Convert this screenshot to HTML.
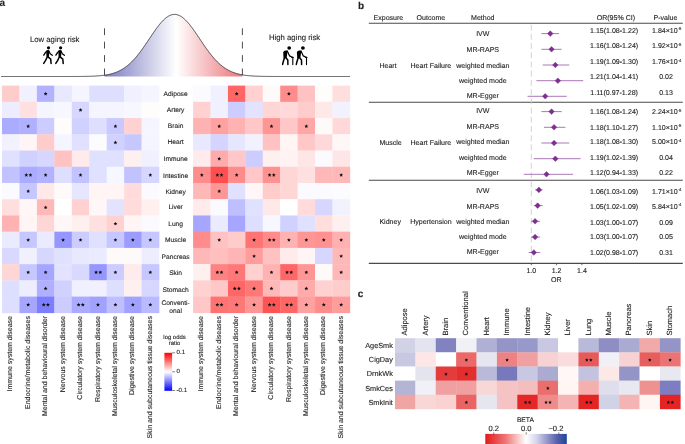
<!DOCTYPE html>
<html><head><meta charset="utf-8"><style>
html,body{margin:0;padding:0;background:#fff;overflow:hidden;}
svg{display:block;will-change:transform;}
text{font-family:"Liberation Sans", sans-serif;fill:#231f20;stroke:#231f20;stroke-width:0.12px;text-rendering:geometricPrecision;}
.t7{font-size:7.05px;}
.trl{font-size:6.65px;}
.tc{font-size:7.0px;}
.t7c{font-size:7.3px;}
.t7cc{font-size:7.55px;}
.t6{font-size:5.9px;}
.t6t{font-size:6.1px;}
.t65{font-size:6.7px;}
.t76{font-size:7.6px;}
.t8{font-size:7.75px;}
.sup{font-size:4.2px;}
.pl{font-size:10px;font-weight:bold;fill:#231f20;}
</style></head><body>
<svg width="685" height="444" viewBox="0 0 685 444">
<rect width="685" height="444" fill="#fff"/>
<rect x="2.00" y="85.60" width="17.75" height="16.53" fill="rgb(255,204,204)"/>
<rect x="19.45" y="85.60" width="17.75" height="16.53" fill="rgb(240,240,255)"/>
<rect x="36.90" y="85.60" width="17.75" height="16.53" fill="rgb(178,178,255)"/>
<rect x="54.35" y="85.60" width="17.75" height="16.53" fill="rgb(232,232,255)"/>
<rect x="71.80" y="85.60" width="17.75" height="16.53" fill="rgb(245,245,255)"/>
<rect x="89.25" y="85.60" width="17.75" height="16.53" fill="rgb(222,222,255)"/>
<rect x="106.70" y="85.60" width="17.75" height="16.53" fill="rgb(222,222,255)"/>
<rect x="124.15" y="85.60" width="17.75" height="16.53" fill="rgb(240,240,255)"/>
<rect x="141.60" y="85.60" width="17.75" height="16.53" fill="rgb(245,245,255)"/>
<rect x="2.00" y="101.83" width="17.75" height="16.53" fill="rgb(237,237,255)"/>
<rect x="19.45" y="101.83" width="17.75" height="16.53" fill="rgb(255,224,224)"/>
<rect x="36.90" y="101.83" width="17.75" height="16.53" fill="rgb(245,245,255)"/>
<rect x="54.35" y="101.83" width="17.75" height="16.53" fill="rgb(247,247,255)"/>
<rect x="71.80" y="101.83" width="17.75" height="16.53" fill="rgb(214,214,255)"/>
<rect x="89.25" y="101.83" width="17.75" height="16.53" fill="rgb(245,245,255)"/>
<rect x="106.70" y="101.83" width="17.75" height="16.53" fill="rgb(245,245,255)"/>
<rect x="124.15" y="101.83" width="17.75" height="16.53" fill="rgb(247,247,255)"/>
<rect x="141.60" y="101.83" width="17.75" height="16.53" fill="rgb(255,252,252)"/>
<rect x="2.00" y="118.06" width="17.75" height="16.53" fill="rgb(171,171,255)"/>
<rect x="19.45" y="118.06" width="17.75" height="16.53" fill="rgb(176,176,255)"/>
<rect x="36.90" y="118.06" width="17.75" height="16.53" fill="rgb(204,204,255)"/>
<rect x="54.35" y="118.06" width="17.75" height="16.53" fill="rgb(255,252,252)"/>
<rect x="71.80" y="118.06" width="17.75" height="16.53" fill="rgb(209,209,255)"/>
<rect x="89.25" y="118.06" width="17.75" height="16.53" fill="rgb(222,222,255)"/>
<rect x="106.70" y="118.06" width="17.75" height="16.53" fill="rgb(201,201,255)"/>
<rect x="124.15" y="118.06" width="17.75" height="16.53" fill="rgb(255,209,209)"/>
<rect x="141.60" y="118.06" width="17.75" height="16.53" fill="rgb(245,245,255)"/>
<rect x="2.00" y="134.29" width="17.75" height="16.53" fill="rgb(242,242,255)"/>
<rect x="19.45" y="134.29" width="17.75" height="16.53" fill="rgb(255,245,245)"/>
<rect x="36.90" y="134.29" width="17.75" height="16.53" fill="rgb(255,204,204)"/>
<rect x="54.35" y="134.29" width="17.75" height="16.53" fill="rgb(245,245,255)"/>
<rect x="71.80" y="134.29" width="17.75" height="16.53" fill="rgb(224,224,255)"/>
<rect x="89.25" y="134.29" width="17.75" height="16.53" fill="rgb(252,252,255)"/>
<rect x="106.70" y="134.29" width="17.75" height="16.53" fill="rgb(209,209,255)"/>
<rect x="124.15" y="134.29" width="17.75" height="16.53" fill="rgb(199,199,255)"/>
<rect x="141.60" y="134.29" width="17.75" height="16.53" fill="rgb(245,245,255)"/>
<rect x="2.00" y="150.52" width="17.75" height="16.53" fill="rgb(224,224,255)"/>
<rect x="19.45" y="150.52" width="17.75" height="16.53" fill="rgb(209,209,255)"/>
<rect x="36.90" y="150.52" width="17.75" height="16.53" fill="rgb(214,214,255)"/>
<rect x="54.35" y="150.52" width="17.75" height="16.53" fill="rgb(255,194,194)"/>
<rect x="71.80" y="150.52" width="17.75" height="16.53" fill="rgb(255,235,235)"/>
<rect x="89.25" y="150.52" width="17.75" height="16.53" fill="rgb(224,224,255)"/>
<rect x="106.70" y="150.52" width="17.75" height="16.53" fill="rgb(224,224,255)"/>
<rect x="124.15" y="150.52" width="17.75" height="16.53" fill="rgb(255,240,240)"/>
<rect x="141.60" y="150.52" width="17.75" height="16.53" fill="rgb(240,240,255)"/>
<rect x="2.00" y="166.75" width="17.75" height="16.53" fill="rgb(194,194,255)"/>
<rect x="19.45" y="166.75" width="17.75" height="16.53" fill="rgb(171,171,255)"/>
<rect x="36.90" y="166.75" width="17.75" height="16.53" fill="rgb(178,178,255)"/>
<rect x="54.35" y="166.75" width="17.75" height="16.53" fill="rgb(222,222,255)"/>
<rect x="71.80" y="166.75" width="17.75" height="16.53" fill="rgb(194,194,255)"/>
<rect x="89.25" y="166.75" width="17.75" height="16.53" fill="rgb(224,224,255)"/>
<rect x="106.70" y="166.75" width="17.75" height="16.53" fill="rgb(247,247,255)"/>
<rect x="124.15" y="166.75" width="17.75" height="16.53" fill="rgb(194,194,255)"/>
<rect x="141.60" y="166.75" width="17.75" height="16.53" fill="rgb(214,214,255)"/>
<rect x="2.00" y="182.98" width="17.75" height="16.53" fill="rgb(250,250,255)"/>
<rect x="19.45" y="182.98" width="17.75" height="16.53" fill="rgb(199,199,255)"/>
<rect x="36.90" y="182.98" width="17.75" height="16.53" fill="rgb(255,232,232)"/>
<rect x="54.35" y="182.98" width="17.75" height="16.53" fill="rgb(255,250,250)"/>
<rect x="71.80" y="182.98" width="17.75" height="16.53" fill="rgb(230,230,255)"/>
<rect x="89.25" y="182.98" width="17.75" height="16.53" fill="rgb(255,245,245)"/>
<rect x="106.70" y="182.98" width="17.75" height="16.53" fill="rgb(255,245,245)"/>
<rect x="124.15" y="182.98" width="17.75" height="16.53" fill="rgb(255,219,219)"/>
<rect x="141.60" y="182.98" width="17.75" height="16.53" fill="rgb(250,250,255)"/>
<rect x="2.00" y="199.21" width="17.75" height="16.53" fill="rgb(255,222,222)"/>
<rect x="19.45" y="199.21" width="17.75" height="16.53" fill="rgb(255,247,247)"/>
<rect x="36.90" y="199.21" width="17.75" height="16.53" fill="rgb(255,184,184)"/>
<rect x="54.35" y="199.21" width="17.75" height="16.53" fill="rgb(255,255,255)"/>
<rect x="71.80" y="199.21" width="17.75" height="16.53" fill="rgb(255,209,209)"/>
<rect x="89.25" y="199.21" width="17.75" height="16.53" fill="rgb(255,247,247)"/>
<rect x="106.70" y="199.21" width="17.75" height="16.53" fill="rgb(227,227,255)"/>
<rect x="124.15" y="199.21" width="17.75" height="16.53" fill="rgb(255,219,219)"/>
<rect x="141.60" y="199.21" width="17.75" height="16.53" fill="rgb(255,240,240)"/>
<rect x="2.00" y="215.44" width="17.75" height="16.53" fill="rgb(255,178,178)"/>
<rect x="19.45" y="215.44" width="17.75" height="16.53" fill="rgb(255,245,245)"/>
<rect x="36.90" y="215.44" width="17.75" height="16.53" fill="rgb(255,214,214)"/>
<rect x="54.35" y="215.44" width="17.75" height="16.53" fill="rgb(255,247,247)"/>
<rect x="71.80" y="215.44" width="17.75" height="16.53" fill="rgb(255,240,240)"/>
<rect x="89.25" y="215.44" width="17.75" height="16.53" fill="rgb(255,224,224)"/>
<rect x="106.70" y="215.44" width="17.75" height="16.53" fill="rgb(255,209,209)"/>
<rect x="124.15" y="215.44" width="17.75" height="16.53" fill="rgb(255,245,245)"/>
<rect x="141.60" y="215.44" width="17.75" height="16.53" fill="rgb(250,250,255)"/>
<rect x="2.00" y="231.67" width="17.75" height="16.53" fill="rgb(235,235,255)"/>
<rect x="19.45" y="231.67" width="17.75" height="16.53" fill="rgb(199,199,255)"/>
<rect x="36.90" y="231.67" width="17.75" height="16.53" fill="rgb(235,235,255)"/>
<rect x="54.35" y="231.67" width="17.75" height="16.53" fill="rgb(150,150,255)"/>
<rect x="71.80" y="231.67" width="17.75" height="16.53" fill="rgb(204,204,255)"/>
<rect x="89.25" y="231.67" width="17.75" height="16.53" fill="rgb(224,224,255)"/>
<rect x="106.70" y="231.67" width="17.75" height="16.53" fill="rgb(199,199,255)"/>
<rect x="124.15" y="231.67" width="17.75" height="16.53" fill="rgb(156,156,255)"/>
<rect x="141.60" y="231.67" width="17.75" height="16.53" fill="rgb(199,199,255)"/>
<rect x="2.00" y="247.90" width="17.75" height="16.53" fill="rgb(217,217,255)"/>
<rect x="19.45" y="247.90" width="17.75" height="16.53" fill="rgb(240,240,255)"/>
<rect x="36.90" y="247.90" width="17.75" height="16.53" fill="rgb(214,214,255)"/>
<rect x="54.35" y="247.90" width="17.75" height="16.53" fill="rgb(224,224,255)"/>
<rect x="71.80" y="247.90" width="17.75" height="16.53" fill="rgb(232,232,255)"/>
<rect x="89.25" y="247.90" width="17.75" height="16.53" fill="rgb(235,235,255)"/>
<rect x="106.70" y="247.90" width="17.75" height="16.53" fill="rgb(255,250,250)"/>
<rect x="124.15" y="247.90" width="17.75" height="16.53" fill="rgb(255,250,250)"/>
<rect x="141.60" y="247.90" width="17.75" height="16.53" fill="rgb(237,237,255)"/>
<rect x="2.00" y="264.13" width="17.75" height="16.53" fill="rgb(255,214,214)"/>
<rect x="19.45" y="264.13" width="17.75" height="16.53" fill="rgb(199,199,255)"/>
<rect x="36.90" y="264.13" width="17.75" height="16.53" fill="rgb(166,166,255)"/>
<rect x="54.35" y="264.13" width="17.75" height="16.53" fill="rgb(227,227,255)"/>
<rect x="71.80" y="264.13" width="17.75" height="16.53" fill="rgb(217,217,255)"/>
<rect x="89.25" y="264.13" width="17.75" height="16.53" fill="rgb(150,150,255)"/>
<rect x="106.70" y="264.13" width="17.75" height="16.53" fill="rgb(204,204,255)"/>
<rect x="124.15" y="264.13" width="17.75" height="16.53" fill="rgb(255,235,235)"/>
<rect x="141.60" y="264.13" width="17.75" height="16.53" fill="rgb(199,199,255)"/>
<rect x="2.00" y="280.36" width="17.75" height="16.53" fill="rgb(222,222,255)"/>
<rect x="19.45" y="280.36" width="17.75" height="16.53" fill="rgb(237,237,255)"/>
<rect x="36.90" y="280.36" width="17.75" height="16.53" fill="rgb(176,176,255)"/>
<rect x="54.35" y="280.36" width="17.75" height="16.53" fill="rgb(209,209,255)"/>
<rect x="71.80" y="280.36" width="17.75" height="16.53" fill="rgb(240,240,255)"/>
<rect x="89.25" y="280.36" width="17.75" height="16.53" fill="rgb(240,240,255)"/>
<rect x="106.70" y="280.36" width="17.75" height="16.53" fill="rgb(222,222,255)"/>
<rect x="124.15" y="280.36" width="17.75" height="16.53" fill="rgb(255,240,240)"/>
<rect x="141.60" y="280.36" width="17.75" height="16.53" fill="rgb(214,214,255)"/>
<rect x="2.00" y="296.59" width="17.75" height="16.53" fill="rgb(222,222,255)"/>
<rect x="19.45" y="296.59" width="17.75" height="16.53" fill="rgb(166,166,255)"/>
<rect x="36.90" y="296.59" width="17.75" height="16.53" fill="rgb(125,125,255)"/>
<rect x="54.35" y="296.59" width="17.75" height="16.53" fill="rgb(204,204,255)"/>
<rect x="71.80" y="296.59" width="17.75" height="16.53" fill="rgb(171,171,255)"/>
<rect x="89.25" y="296.59" width="17.75" height="16.53" fill="rgb(161,161,255)"/>
<rect x="106.70" y="296.59" width="17.75" height="16.53" fill="rgb(191,191,255)"/>
<rect x="124.15" y="296.59" width="17.75" height="16.53" fill="rgb(161,161,255)"/>
<rect x="141.60" y="296.59" width="17.75" height="16.53" fill="rgb(186,186,255)"/>
<polygon points="45.62,91.86 46.19,93.09 47.53,93.25 46.54,94.16 46.80,95.48 45.62,94.82 44.45,95.48 44.71,94.16 43.72,93.25 45.06,93.09" fill="#111"/>
<polygon points="80.52,108.09 81.09,109.32 82.43,109.48 81.44,110.39 81.70,111.71 80.52,111.05 79.35,111.71 79.61,110.39 78.62,109.48 79.96,109.32" fill="#111"/>
<polygon points="28.17,124.33 28.74,125.55 30.08,125.71 29.09,126.62 29.35,127.94 28.17,127.28 27.00,127.94 27.26,126.62 26.27,125.71 27.61,125.55" fill="#111"/>
<polygon points="115.42,124.33 115.99,125.55 117.33,125.71 116.34,126.62 116.60,127.94 115.42,127.28 114.25,127.94 114.51,126.62 113.52,125.71 114.86,125.55" fill="#111"/>
<polygon points="115.42,140.56 115.99,141.78 117.33,141.94 116.34,142.85 116.60,144.17 115.42,143.52 114.25,144.17 114.51,142.85 113.52,141.94 114.86,141.78" fill="#111"/>
<polygon points="26.27,173.02 26.84,174.24 28.18,174.40 27.19,175.31 27.45,176.63 26.27,175.98 25.10,176.63 25.36,175.31 24.37,174.40 25.71,174.24" fill="#111"/><polygon points="30.47,173.02 31.04,174.24 32.38,174.40 31.39,175.31 31.65,176.63 30.47,175.98 29.30,176.63 29.56,175.31 28.57,174.40 29.91,174.24" fill="#111"/>
<polygon points="45.62,173.02 46.19,174.24 47.53,174.40 46.54,175.31 46.80,176.63 45.62,175.98 44.45,176.63 44.71,175.31 43.72,174.40 45.06,174.24" fill="#111"/>
<polygon points="80.52,173.02 81.09,174.24 82.43,174.40 81.44,175.31 81.70,176.63 80.52,175.98 79.35,176.63 79.61,175.31 78.62,174.40 79.96,174.24" fill="#111"/>
<polygon points="150.32,173.02 150.89,174.24 152.23,174.40 151.24,175.31 151.50,176.63 150.32,175.98 149.15,176.63 149.41,175.31 148.42,174.40 149.76,174.24" fill="#111"/>
<polygon points="28.17,189.25 28.74,190.47 30.08,190.63 29.09,191.54 29.35,192.86 28.17,192.21 27.00,192.86 27.26,191.54 26.27,190.63 27.61,190.47" fill="#111"/>
<polygon points="45.62,205.47 46.19,206.70 47.53,206.86 46.54,207.77 46.80,209.09 45.62,208.44 44.45,209.09 44.71,207.77 43.72,206.86 45.06,206.70" fill="#111"/>
<polygon points="115.42,221.71 115.99,222.93 117.33,223.09 116.34,224.00 116.60,225.32 115.42,224.67 114.25,225.32 114.51,224.00 113.52,223.09 114.86,222.93" fill="#111"/>
<polygon points="28.17,237.94 28.74,239.16 30.08,239.32 29.09,240.23 29.35,241.55 28.17,240.90 27.00,241.55 27.26,240.23 26.27,239.32 27.61,239.16" fill="#111"/>
<polygon points="63.07,237.94 63.64,239.16 64.98,239.32 63.99,240.23 64.25,241.55 63.07,240.90 61.90,241.55 62.16,240.23 61.17,239.32 62.51,239.16" fill="#111"/>
<polygon points="80.52,237.94 81.09,239.16 82.43,239.32 81.44,240.23 81.70,241.55 80.52,240.90 79.35,241.55 79.61,240.23 78.62,239.32 79.96,239.16" fill="#111"/>
<polygon points="115.42,237.94 115.99,239.16 117.33,239.32 116.34,240.23 116.60,241.55 115.42,240.90 114.25,241.55 114.51,240.23 113.52,239.32 114.86,239.16" fill="#111"/>
<polygon points="132.88,237.94 133.44,239.16 134.78,239.32 133.79,240.23 134.05,241.55 132.88,240.90 131.70,241.55 131.96,240.23 130.97,239.32 132.31,239.16" fill="#111"/>
<polygon points="150.32,237.94 150.89,239.16 152.23,239.32 151.24,240.23 151.50,241.55 150.32,240.90 149.15,241.55 149.41,240.23 148.42,239.32 149.76,239.16" fill="#111"/>
<polygon points="28.17,270.39 28.74,271.62 30.08,271.78 29.09,272.69 29.35,274.01 28.17,273.35 27.00,274.01 27.26,272.69 26.27,271.78 27.61,271.62" fill="#111"/>
<polygon points="45.62,270.39 46.19,271.62 47.53,271.78 46.54,272.69 46.80,274.01 45.62,273.35 44.45,274.01 44.71,272.69 43.72,271.78 45.06,271.62" fill="#111"/>
<polygon points="96.08,270.39 96.64,271.62 97.98,271.78 96.99,272.69 97.25,274.01 96.08,273.35 94.90,274.01 95.16,272.69 94.17,271.78 95.51,271.62" fill="#111"/><polygon points="100.27,270.39 100.84,271.62 102.18,271.78 101.19,272.69 101.45,274.01 100.27,273.35 99.10,274.01 99.36,272.69 98.37,271.78 99.71,271.62" fill="#111"/>
<polygon points="115.42,270.39 115.99,271.62 117.33,271.78 116.34,272.69 116.60,274.01 115.42,273.35 114.25,274.01 114.51,272.69 113.52,271.78 114.86,271.62" fill="#111"/>
<polygon points="150.32,270.39 150.89,271.62 152.23,271.78 151.24,272.69 151.50,274.01 150.32,273.35 149.15,274.01 149.41,272.69 148.42,271.78 149.76,271.62" fill="#111"/>
<polygon points="45.62,286.62 46.19,287.85 47.53,288.01 46.54,288.92 46.80,290.24 45.62,289.58 44.45,290.24 44.71,288.92 43.72,288.01 45.06,287.85" fill="#111"/>
<polygon points="28.17,302.86 28.74,304.08 30.08,304.24 29.09,305.15 29.35,306.47 28.17,305.81 27.00,306.47 27.26,305.15 26.27,304.24 27.61,304.08" fill="#111"/>
<polygon points="43.73,302.86 44.29,304.08 45.63,304.24 44.64,305.15 44.90,306.47 43.73,305.81 42.55,306.47 42.81,305.15 41.82,304.24 43.16,304.08" fill="#111"/><polygon points="47.93,302.86 48.49,304.08 49.83,304.24 48.84,305.15 49.10,306.47 47.93,305.81 46.75,306.47 47.01,305.15 46.02,304.24 47.36,304.08" fill="#111"/>
<polygon points="78.62,302.86 79.19,304.08 80.53,304.24 79.54,305.15 79.80,306.47 78.62,305.81 77.45,306.47 77.71,305.15 76.72,304.24 78.06,304.08" fill="#111"/><polygon points="82.82,302.86 83.39,304.08 84.73,304.24 83.74,305.15 84.00,306.47 82.82,305.81 81.65,306.47 81.91,305.15 80.92,304.24 82.26,304.08" fill="#111"/>
<polygon points="97.97,302.86 98.54,304.08 99.88,304.24 98.89,305.15 99.15,306.47 97.97,305.81 96.80,306.47 97.06,305.15 96.07,304.24 97.41,304.08" fill="#111"/>
<polygon points="115.42,302.86 115.99,304.08 117.33,304.24 116.34,305.15 116.60,306.47 115.42,305.81 114.25,306.47 114.51,305.15 113.52,304.24 114.86,304.08" fill="#111"/>
<polygon points="132.88,302.86 133.44,304.08 134.78,304.24 133.79,305.15 134.05,306.47 132.88,305.81 131.70,306.47 131.96,305.15 130.97,304.24 132.31,304.08" fill="#111"/>
<polygon points="150.32,302.86 150.89,304.08 152.23,304.24 151.24,305.15 151.50,306.47 150.32,305.81 149.15,306.47 149.41,305.15 148.42,304.24 149.76,304.08" fill="#111"/>
<rect x="193.10" y="85.60" width="17.72" height="16.53" fill="rgb(250,250,255)"/>
<rect x="210.52" y="85.60" width="17.72" height="16.53" fill="rgb(240,240,255)"/>
<rect x="227.94" y="85.60" width="17.72" height="16.53" fill="rgb(255,102,102)"/>
<rect x="245.36" y="85.60" width="17.72" height="16.53" fill="rgb(255,209,209)"/>
<rect x="262.78" y="85.60" width="17.72" height="16.53" fill="rgb(255,250,250)"/>
<rect x="280.20" y="85.60" width="17.72" height="16.53" fill="rgb(255,140,140)"/>
<rect x="297.62" y="85.60" width="17.72" height="16.53" fill="rgb(255,194,194)"/>
<rect x="315.04" y="85.60" width="17.72" height="16.53" fill="rgb(255,252,252)"/>
<rect x="332.46" y="85.60" width="17.72" height="16.53" fill="rgb(255,222,222)"/>
<rect x="193.10" y="101.83" width="17.72" height="16.53" fill="rgb(255,209,209)"/>
<rect x="210.52" y="101.83" width="17.72" height="16.53" fill="rgb(240,240,255)"/>
<rect x="227.94" y="101.83" width="17.72" height="16.53" fill="rgb(204,204,255)"/>
<rect x="245.36" y="101.83" width="17.72" height="16.53" fill="rgb(227,227,255)"/>
<rect x="262.78" y="101.83" width="17.72" height="16.53" fill="rgb(255,214,214)"/>
<rect x="280.20" y="101.83" width="17.72" height="16.53" fill="rgb(255,217,217)"/>
<rect x="297.62" y="101.83" width="17.72" height="16.53" fill="rgb(255,204,204)"/>
<rect x="315.04" y="101.83" width="17.72" height="16.53" fill="rgb(255,232,232)"/>
<rect x="332.46" y="101.83" width="17.72" height="16.53" fill="rgb(242,242,255)"/>
<rect x="193.10" y="118.06" width="17.72" height="16.53" fill="rgb(255,178,178)"/>
<rect x="210.52" y="118.06" width="17.72" height="16.53" fill="rgb(255,161,161)"/>
<rect x="227.94" y="118.06" width="17.72" height="16.53" fill="rgb(255,178,178)"/>
<rect x="245.36" y="118.06" width="17.72" height="16.53" fill="rgb(255,199,199)"/>
<rect x="262.78" y="118.06" width="17.72" height="16.53" fill="rgb(255,150,150)"/>
<rect x="280.20" y="118.06" width="17.72" height="16.53" fill="rgb(255,199,199)"/>
<rect x="297.62" y="118.06" width="17.72" height="16.53" fill="rgb(255,166,166)"/>
<rect x="315.04" y="118.06" width="17.72" height="16.53" fill="rgb(255,250,250)"/>
<rect x="332.46" y="118.06" width="17.72" height="16.53" fill="rgb(255,217,217)"/>
<rect x="193.10" y="134.29" width="17.72" height="16.53" fill="rgb(232,232,255)"/>
<rect x="210.52" y="134.29" width="17.72" height="16.53" fill="rgb(212,212,255)"/>
<rect x="227.94" y="134.29" width="17.72" height="16.53" fill="rgb(230,230,255)"/>
<rect x="245.36" y="134.29" width="17.72" height="16.53" fill="rgb(242,242,255)"/>
<rect x="262.78" y="134.29" width="17.72" height="16.53" fill="rgb(255,194,194)"/>
<rect x="280.20" y="134.29" width="17.72" height="16.53" fill="rgb(255,245,245)"/>
<rect x="297.62" y="134.29" width="17.72" height="16.53" fill="rgb(255,199,199)"/>
<rect x="315.04" y="134.29" width="17.72" height="16.53" fill="rgb(255,217,217)"/>
<rect x="332.46" y="134.29" width="17.72" height="16.53" fill="rgb(255,247,247)"/>
<rect x="193.10" y="150.52" width="17.72" height="16.53" fill="rgb(255,235,235)"/>
<rect x="210.52" y="150.52" width="17.72" height="16.53" fill="rgb(255,171,171)"/>
<rect x="227.94" y="150.52" width="17.72" height="16.53" fill="rgb(255,199,199)"/>
<rect x="245.36" y="150.52" width="17.72" height="16.53" fill="rgb(204,204,255)"/>
<rect x="262.78" y="150.52" width="17.72" height="16.53" fill="rgb(255,240,240)"/>
<rect x="280.20" y="150.52" width="17.72" height="16.53" fill="rgb(255,242,242)"/>
<rect x="297.62" y="150.52" width="17.72" height="16.53" fill="rgb(255,230,230)"/>
<rect x="315.04" y="150.52" width="17.72" height="16.53" fill="rgb(250,250,255)"/>
<rect x="332.46" y="150.52" width="17.72" height="16.53" fill="rgb(255,230,230)"/>
<rect x="193.10" y="166.75" width="17.72" height="16.53" fill="rgb(255,140,140)"/>
<rect x="210.52" y="166.75" width="17.72" height="16.53" fill="rgb(255,79,79)"/>
<rect x="227.94" y="166.75" width="17.72" height="16.53" fill="rgb(255,140,140)"/>
<rect x="245.36" y="166.75" width="17.72" height="16.53" fill="rgb(255,199,199)"/>
<rect x="262.78" y="166.75" width="17.72" height="16.53" fill="rgb(255,145,145)"/>
<rect x="280.20" y="166.75" width="17.72" height="16.53" fill="rgb(255,214,214)"/>
<rect x="297.62" y="166.75" width="17.72" height="16.53" fill="rgb(255,224,224)"/>
<rect x="315.04" y="166.75" width="17.72" height="16.53" fill="rgb(255,184,184)"/>
<rect x="332.46" y="166.75" width="17.72" height="16.53" fill="rgb(255,184,184)"/>
<rect x="193.10" y="182.98" width="17.72" height="16.53" fill="rgb(255,184,184)"/>
<rect x="210.52" y="182.98" width="17.72" height="16.53" fill="rgb(255,150,150)"/>
<rect x="227.94" y="182.98" width="17.72" height="16.53" fill="rgb(224,224,255)"/>
<rect x="245.36" y="182.98" width="17.72" height="16.53" fill="rgb(255,247,247)"/>
<rect x="262.78" y="182.98" width="17.72" height="16.53" fill="rgb(255,204,204)"/>
<rect x="280.20" y="182.98" width="17.72" height="16.53" fill="rgb(255,214,214)"/>
<rect x="297.62" y="182.98" width="17.72" height="16.53" fill="rgb(250,250,255)"/>
<rect x="315.04" y="182.98" width="17.72" height="16.53" fill="rgb(250,250,255)"/>
<rect x="332.46" y="182.98" width="17.72" height="16.53" fill="rgb(252,252,255)"/>
<rect x="193.10" y="199.21" width="17.72" height="16.53" fill="rgb(255,235,235)"/>
<rect x="210.52" y="199.21" width="17.72" height="16.53" fill="rgb(250,250,255)"/>
<rect x="227.94" y="199.21" width="17.72" height="16.53" fill="rgb(191,191,255)"/>
<rect x="245.36" y="199.21" width="17.72" height="16.53" fill="rgb(224,224,255)"/>
<rect x="262.78" y="199.21" width="17.72" height="16.53" fill="rgb(255,232,232)"/>
<rect x="280.20" y="199.21" width="17.72" height="16.53" fill="rgb(255,255,255)"/>
<rect x="297.62" y="199.21" width="17.72" height="16.53" fill="rgb(255,219,219)"/>
<rect x="315.04" y="199.21" width="17.72" height="16.53" fill="rgb(214,214,255)"/>
<rect x="332.46" y="199.21" width="17.72" height="16.53" fill="rgb(242,242,255)"/>
<rect x="193.10" y="215.44" width="17.72" height="16.53" fill="rgb(166,166,255)"/>
<rect x="210.52" y="215.44" width="17.72" height="16.53" fill="rgb(235,235,255)"/>
<rect x="227.94" y="215.44" width="17.72" height="16.53" fill="rgb(166,166,255)"/>
<rect x="245.36" y="215.44" width="17.72" height="16.53" fill="rgb(222,222,255)"/>
<rect x="262.78" y="215.44" width="17.72" height="16.53" fill="rgb(247,247,255)"/>
<rect x="280.20" y="215.44" width="17.72" height="16.53" fill="rgb(209,209,255)"/>
<rect x="297.62" y="215.44" width="17.72" height="16.53" fill="rgb(224,224,255)"/>
<rect x="315.04" y="215.44" width="17.72" height="16.53" fill="rgb(255,222,222)"/>
<rect x="332.46" y="215.44" width="17.72" height="16.53" fill="rgb(255,240,240)"/>
<rect x="193.10" y="231.67" width="17.72" height="16.53" fill="rgb(255,140,140)"/>
<rect x="210.52" y="231.67" width="17.72" height="16.53" fill="rgb(255,194,194)"/>
<rect x="227.94" y="231.67" width="17.72" height="16.53" fill="rgb(255,204,204)"/>
<rect x="245.36" y="231.67" width="17.72" height="16.53" fill="rgb(255,115,115)"/>
<rect x="262.78" y="231.67" width="17.72" height="16.53" fill="rgb(255,140,140)"/>
<rect x="280.20" y="231.67" width="17.72" height="16.53" fill="rgb(255,178,178)"/>
<rect x="297.62" y="231.67" width="17.72" height="16.53" fill="rgb(255,150,150)"/>
<rect x="315.04" y="231.67" width="17.72" height="16.53" fill="rgb(255,145,145)"/>
<rect x="332.46" y="231.67" width="17.72" height="16.53" fill="rgb(255,176,176)"/>
<rect x="193.10" y="247.90" width="17.72" height="16.53" fill="rgb(255,184,184)"/>
<rect x="210.52" y="247.90" width="17.72" height="16.53" fill="rgb(255,191,191)"/>
<rect x="227.94" y="247.90" width="17.72" height="16.53" fill="rgb(255,181,181)"/>
<rect x="245.36" y="247.90" width="17.72" height="16.53" fill="rgb(255,156,156)"/>
<rect x="262.78" y="247.90" width="17.72" height="16.53" fill="rgb(255,194,194)"/>
<rect x="280.20" y="247.90" width="17.72" height="16.53" fill="rgb(255,235,235)"/>
<rect x="297.62" y="247.90" width="17.72" height="16.53" fill="rgb(255,245,245)"/>
<rect x="315.04" y="247.90" width="17.72" height="16.53" fill="rgb(214,214,255)"/>
<rect x="332.46" y="247.90" width="17.72" height="16.53" fill="rgb(255,184,184)"/>
<rect x="193.10" y="264.13" width="17.72" height="16.53" fill="rgb(255,240,240)"/>
<rect x="210.52" y="264.13" width="17.72" height="16.53" fill="rgb(255,130,130)"/>
<rect x="227.94" y="264.13" width="17.72" height="16.53" fill="rgb(255,120,120)"/>
<rect x="245.36" y="264.13" width="17.72" height="16.53" fill="rgb(255,209,209)"/>
<rect x="262.78" y="264.13" width="17.72" height="16.53" fill="rgb(255,178,178)"/>
<rect x="280.20" y="264.13" width="17.72" height="16.53" fill="rgb(255,102,102)"/>
<rect x="297.62" y="264.13" width="17.72" height="16.53" fill="rgb(255,150,150)"/>
<rect x="315.04" y="264.13" width="17.72" height="16.53" fill="rgb(255,250,250)"/>
<rect x="332.46" y="264.13" width="17.72" height="16.53" fill="rgb(255,184,184)"/>
<rect x="193.10" y="280.36" width="17.72" height="16.53" fill="rgb(255,209,209)"/>
<rect x="210.52" y="280.36" width="17.72" height="16.53" fill="rgb(255,199,199)"/>
<rect x="227.94" y="280.36" width="17.72" height="16.53" fill="rgb(255,102,102)"/>
<rect x="245.36" y="280.36" width="17.72" height="16.53" fill="rgb(255,120,120)"/>
<rect x="262.78" y="280.36" width="17.72" height="16.53" fill="rgb(255,184,184)"/>
<rect x="280.20" y="280.36" width="17.72" height="16.53" fill="rgb(255,204,204)"/>
<rect x="297.62" y="280.36" width="17.72" height="16.53" fill="rgb(255,171,171)"/>
<rect x="315.04" y="280.36" width="17.72" height="16.53" fill="rgb(255,209,209)"/>
<rect x="332.46" y="280.36" width="17.72" height="16.53" fill="rgb(255,204,204)"/>
<rect x="193.10" y="296.59" width="17.72" height="16.53" fill="rgb(255,199,199)"/>
<rect x="210.52" y="296.59" width="17.72" height="16.53" fill="rgb(255,115,115)"/>
<rect x="227.94" y="296.59" width="17.72" height="16.53" fill="rgb(255,120,120)"/>
<rect x="245.36" y="296.59" width="17.72" height="16.53" fill="rgb(255,150,150)"/>
<rect x="262.78" y="296.59" width="17.72" height="16.53" fill="rgb(255,84,84)"/>
<rect x="280.20" y="296.59" width="17.72" height="16.53" fill="rgb(255,102,102)"/>
<rect x="297.62" y="296.59" width="17.72" height="16.53" fill="rgb(255,161,161)"/>
<rect x="315.04" y="296.59" width="17.72" height="16.53" fill="rgb(255,140,140)"/>
<rect x="332.46" y="296.59" width="17.72" height="16.53" fill="rgb(255,156,156)"/>
<polygon points="236.65,91.86 237.21,93.09 238.55,93.25 237.56,94.16 237.83,95.48 236.65,94.82 235.47,95.48 235.74,94.16 234.75,93.25 236.09,93.09" fill="#111"/>
<polygon points="288.91,91.86 289.47,93.09 290.81,93.25 289.82,94.16 290.09,95.48 288.91,94.82 287.73,95.48 288.00,94.16 287.01,93.25 288.35,93.09" fill="#111"/>
<polygon points="219.23,124.33 219.79,125.55 221.13,125.71 220.14,126.62 220.41,127.94 219.23,127.28 218.05,127.94 218.32,126.62 217.33,125.71 218.67,125.55" fill="#111"/>
<polygon points="271.49,124.33 272.05,125.55 273.39,125.71 272.40,126.62 272.67,127.94 271.49,127.28 270.31,127.94 270.58,126.62 269.59,125.71 270.93,125.55" fill="#111"/>
<polygon points="306.33,124.33 306.89,125.55 308.23,125.71 307.24,126.62 307.51,127.94 306.33,127.28 305.15,127.94 305.42,126.62 304.43,125.71 305.77,125.55" fill="#111"/>
<polygon points="219.23,156.78 219.79,158.01 221.13,158.17 220.14,159.08 220.41,160.40 219.23,159.75 218.05,160.40 218.32,159.08 217.33,158.17 218.67,158.01" fill="#111"/>
<polygon points="201.81,173.02 202.37,174.24 203.71,174.40 202.72,175.31 202.99,176.63 201.81,175.98 200.63,176.63 200.90,175.31 199.91,174.40 201.25,174.24" fill="#111"/>
<polygon points="217.33,173.02 217.89,174.24 219.23,174.40 218.24,175.31 218.51,176.63 217.33,175.98 216.15,176.63 216.42,175.31 215.43,174.40 216.77,174.24" fill="#111"/><polygon points="221.53,173.02 222.09,174.24 223.43,174.40 222.44,175.31 222.71,176.63 221.53,175.98 220.35,176.63 220.62,175.31 219.63,174.40 220.97,174.24" fill="#111"/>
<polygon points="236.65,173.02 237.21,174.24 238.55,174.40 237.56,175.31 237.83,176.63 236.65,175.98 235.47,176.63 235.74,175.31 234.75,174.40 236.09,174.24" fill="#111"/>
<polygon points="269.59,173.02 270.15,174.24 271.49,174.40 270.50,175.31 270.77,176.63 269.59,175.98 268.41,176.63 268.68,175.31 267.69,174.40 269.03,174.24" fill="#111"/><polygon points="273.79,173.02 274.35,174.24 275.69,174.40 274.70,175.31 274.97,176.63 273.79,175.98 272.61,176.63 272.88,175.31 271.89,174.40 273.23,174.24" fill="#111"/>
<polygon points="341.17,173.02 341.73,174.24 343.07,174.40 342.08,175.31 342.35,176.63 341.17,175.98 339.99,176.63 340.26,175.31 339.27,174.40 340.61,174.24" fill="#111"/>
<polygon points="219.23,189.25 219.79,190.47 221.13,190.63 220.14,191.54 220.41,192.86 219.23,192.21 218.05,192.86 218.32,191.54 217.33,190.63 218.67,190.47" fill="#111"/>
<polygon points="219.23,237.94 219.79,239.16 221.13,239.32 220.14,240.23 220.41,241.55 219.23,240.90 218.05,241.55 218.32,240.23 217.33,239.32 218.67,239.16" fill="#111"/>
<polygon points="254.07,237.94 254.63,239.16 255.97,239.32 254.98,240.23 255.25,241.55 254.07,240.90 252.89,241.55 253.16,240.23 252.17,239.32 253.51,239.16" fill="#111"/>
<polygon points="269.59,237.94 270.15,239.16 271.49,239.32 270.50,240.23 270.77,241.55 269.59,240.90 268.41,241.55 268.68,240.23 267.69,239.32 269.03,239.16" fill="#111"/><polygon points="273.79,237.94 274.35,239.16 275.69,239.32 274.70,240.23 274.97,241.55 273.79,240.90 272.61,241.55 272.88,240.23 271.89,239.32 273.23,239.16" fill="#111"/>
<polygon points="288.91,237.94 289.47,239.16 290.81,239.32 289.82,240.23 290.09,241.55 288.91,240.90 287.73,241.55 288.00,240.23 287.01,239.32 288.35,239.16" fill="#111"/>
<polygon points="306.33,237.94 306.89,239.16 308.23,239.32 307.24,240.23 307.51,241.55 306.33,240.90 305.15,241.55 305.42,240.23 304.43,239.32 305.77,239.16" fill="#111"/>
<polygon points="323.75,237.94 324.31,239.16 325.65,239.32 324.66,240.23 324.93,241.55 323.75,240.90 322.57,241.55 322.84,240.23 321.85,239.32 323.19,239.16" fill="#111"/>
<polygon points="341.17,237.94 341.73,239.16 343.07,239.32 342.08,240.23 342.35,241.55 341.17,240.90 339.99,241.55 340.26,240.23 339.27,239.32 340.61,239.16" fill="#111"/>
<polygon points="254.07,254.16 254.63,255.39 255.97,255.55 254.98,256.46 255.25,257.78 254.07,257.12 252.89,257.78 253.16,256.46 252.17,255.55 253.51,255.39" fill="#111"/>
<polygon points="341.17,254.16 341.73,255.39 343.07,255.55 342.08,256.46 342.35,257.78 341.17,257.12 339.99,257.78 340.26,256.46 339.27,255.55 340.61,255.39" fill="#111"/>
<polygon points="217.33,270.39 217.89,271.62 219.23,271.78 218.24,272.69 218.51,274.01 217.33,273.35 216.15,274.01 216.42,272.69 215.43,271.78 216.77,271.62" fill="#111"/><polygon points="221.53,270.39 222.09,271.62 223.43,271.78 222.44,272.69 222.71,274.01 221.53,273.35 220.35,274.01 220.62,272.69 219.63,271.78 220.97,271.62" fill="#111"/>
<polygon points="236.65,270.39 237.21,271.62 238.55,271.78 237.56,272.69 237.83,274.01 236.65,273.35 235.47,274.01 235.74,272.69 234.75,271.78 236.09,271.62" fill="#111"/>
<polygon points="271.49,270.39 272.05,271.62 273.39,271.78 272.40,272.69 272.67,274.01 271.49,273.35 270.31,274.01 270.58,272.69 269.59,271.78 270.93,271.62" fill="#111"/>
<polygon points="287.01,270.39 287.57,271.62 288.91,271.78 287.92,272.69 288.19,274.01 287.01,273.35 285.83,274.01 286.10,272.69 285.11,271.78 286.45,271.62" fill="#111"/><polygon points="291.21,270.39 291.77,271.62 293.11,271.78 292.12,272.69 292.39,274.01 291.21,273.35 290.03,274.01 290.30,272.69 289.31,271.78 290.65,271.62" fill="#111"/>
<polygon points="306.33,270.39 306.89,271.62 308.23,271.78 307.24,272.69 307.51,274.01 306.33,273.35 305.15,274.01 305.42,272.69 304.43,271.78 305.77,271.62" fill="#111"/>
<polygon points="341.17,270.39 341.73,271.62 343.07,271.78 342.08,272.69 342.35,274.01 341.17,273.35 339.99,274.01 340.26,272.69 339.27,271.78 340.61,271.62" fill="#111"/>
<polygon points="234.75,286.62 235.31,287.85 236.65,288.01 235.66,288.92 235.93,290.24 234.75,289.58 233.57,290.24 233.84,288.92 232.85,288.01 234.19,287.85" fill="#111"/><polygon points="238.95,286.62 239.51,287.85 240.85,288.01 239.86,288.92 240.13,290.24 238.95,289.58 237.77,290.24 238.04,288.92 237.05,288.01 238.39,287.85" fill="#111"/>
<polygon points="254.07,286.62 254.63,287.85 255.97,288.01 254.98,288.92 255.25,290.24 254.07,289.58 252.89,290.24 253.16,288.92 252.17,288.01 253.51,287.85" fill="#111"/>
<polygon points="271.49,286.62 272.05,287.85 273.39,288.01 272.40,288.92 272.67,290.24 271.49,289.58 270.31,290.24 270.58,288.92 269.59,288.01 270.93,287.85" fill="#111"/>
<polygon points="306.33,286.62 306.89,287.85 308.23,288.01 307.24,288.92 307.51,290.24 306.33,289.58 305.15,290.24 305.42,288.92 304.43,288.01 305.77,287.85" fill="#111"/>
<polygon points="217.33,302.86 217.89,304.08 219.23,304.24 218.24,305.15 218.51,306.47 217.33,305.81 216.15,306.47 216.42,305.15 215.43,304.24 216.77,304.08" fill="#111"/><polygon points="221.53,302.86 222.09,304.08 223.43,304.24 222.44,305.15 222.71,306.47 221.53,305.81 220.35,306.47 220.62,305.15 219.63,304.24 220.97,304.08" fill="#111"/>
<polygon points="236.65,302.86 237.21,304.08 238.55,304.24 237.56,305.15 237.83,306.47 236.65,305.81 235.47,306.47 235.74,305.15 234.75,304.24 236.09,304.08" fill="#111"/>
<polygon points="254.07,302.86 254.63,304.08 255.97,304.24 254.98,305.15 255.25,306.47 254.07,305.81 252.89,306.47 253.16,305.15 252.17,304.24 253.51,304.08" fill="#111"/>
<polygon points="269.59,302.86 270.15,304.08 271.49,304.24 270.50,305.15 270.77,306.47 269.59,305.81 268.41,306.47 268.68,305.15 267.69,304.24 269.03,304.08" fill="#111"/><polygon points="273.79,302.86 274.35,304.08 275.69,304.24 274.70,305.15 274.97,306.47 273.79,305.81 272.61,306.47 272.88,305.15 271.89,304.24 273.23,304.08" fill="#111"/>
<polygon points="287.01,302.86 287.57,304.08 288.91,304.24 287.92,305.15 288.19,306.47 287.01,305.81 285.83,306.47 286.10,305.15 285.11,304.24 286.45,304.08" fill="#111"/><polygon points="291.21,302.86 291.77,304.08 293.11,304.24 292.12,305.15 292.39,306.47 291.21,305.81 290.03,306.47 290.30,305.15 289.31,304.24 290.65,304.08" fill="#111"/>
<polygon points="306.33,302.86 306.89,304.08 308.23,304.24 307.24,305.15 307.51,306.47 306.33,305.81 305.15,306.47 305.42,305.15 304.43,304.24 305.77,304.08" fill="#111"/>
<polygon points="323.75,302.86 324.31,304.08 325.65,304.24 324.66,305.15 324.93,306.47 323.75,305.81 322.57,306.47 322.84,305.15 321.85,304.24 323.19,304.08" fill="#111"/>
<polygon points="341.17,302.86 341.73,304.08 343.07,304.24 342.08,305.15 342.35,306.47 341.17,305.81 339.99,306.47 340.26,305.15 339.27,304.24 340.61,304.08" fill="#111"/>
<text x="175.6" y="95.61" class="trl" text-anchor="middle">Adipose</text>
<text x="175.6" y="111.55" class="trl" text-anchor="middle">Artery</text>
<text x="175.6" y="127.57" class="trl" text-anchor="middle">Brain</text>
<text x="175.6" y="143.81" class="trl" text-anchor="middle">Heart</text>
<text x="175.6" y="160.73" class="trl" text-anchor="middle">Immune</text>
<text x="175.6" y="178.27" class="trl" text-anchor="middle">Intestine</text>
<text x="175.6" y="193.50" class="trl" text-anchor="middle">Kidney</text>
<text x="175.6" y="208.92" class="trl" text-anchor="middle">Liver</text>
<text x="175.6" y="225.66" class="trl" text-anchor="middle">Lung</text>
<text x="175.6" y="242.19" class="trl" text-anchor="middle">Muscle</text>
<text x="175.6" y="258.71" class="trl" text-anchor="middle">Pancreas</text>
<text x="175.6" y="275.14" class="trl" text-anchor="middle">Skin</text>
<text x="175.6" y="291.98" class="trl" text-anchor="middle">Stomach</text>
<text x="175.6" y="305.11" class="trl" text-anchor="middle">Conventi-</text>
<text x="175.6" y="313.11" class="trl" text-anchor="middle">onal</text>
<text transform="translate(12.32,316) rotate(-90)" class="tc" text-anchor="end">Immune system disease</text>
<text transform="translate(29.77,316) rotate(-90)" class="tc" text-anchor="end">Endocrine/metabolic diseases</text>
<text transform="translate(47.23,316) rotate(-90)" class="tc" text-anchor="end">Mental and behavioural disorder</text>
<text transform="translate(64.67,316) rotate(-90)" class="tc" text-anchor="end">Nervous system disease</text>
<text transform="translate(82.12,316) rotate(-90)" class="tc" text-anchor="end">Circulatory system disease</text>
<text transform="translate(99.57,316) rotate(-90)" class="tc" text-anchor="end">Respiratory system disease</text>
<text transform="translate(117.02,316) rotate(-90)" class="tc" text-anchor="end">Musculoskeletal system disease</text>
<text transform="translate(134.47,316) rotate(-90)" class="tc" text-anchor="end">Digestive system disease</text>
<text transform="translate(151.92,316) rotate(-90)" class="tc" text-anchor="end">Skin and subcutaneous tissue diseases</text>
<text transform="translate(203.41,316) rotate(-90)" class="tc" text-anchor="end">Immune system disease</text>
<text transform="translate(220.83,316) rotate(-90)" class="tc" text-anchor="end">Endocrine/metabolic diseases</text>
<text transform="translate(238.25,316) rotate(-90)" class="tc" text-anchor="end">Mental and behavioural disorder</text>
<text transform="translate(255.67,316) rotate(-90)" class="tc" text-anchor="end">Nervous system disease</text>
<text transform="translate(273.09,316) rotate(-90)" class="tc" text-anchor="end">Circulatory system disease</text>
<text transform="translate(290.51,316) rotate(-90)" class="tc" text-anchor="end">Respiratory system disease</text>
<text transform="translate(307.93,316) rotate(-90)" class="tc" text-anchor="end">Musculoskeletal system disease</text>
<text transform="translate(325.35,316) rotate(-90)" class="tc" text-anchor="end">Digestive system disease</text>
<text transform="translate(342.77,316) rotate(-90)" class="tc" text-anchor="end">Skin and subcutaneous tissue diseases</text>
<defs><linearGradient id="lg1" x1="0" y1="0" x2="0" y2="1"><stop offset="0" stop-color="#ff0000"/><stop offset="0.5" stop-color="#ffffff"/><stop offset="1" stop-color="#0000ff"/></linearGradient><linearGradient id="lg2" x1="0" y1="0" x2="1" y2="0"><stop offset="0" stop-color="rgb(228,26,28)"/><stop offset="0.25" stop-color="rgb(238,118,118)"/><stop offset="0.5" stop-color="#ffffff"/><stop offset="0.63" stop-color="rgb(212,212,234)"/><stop offset="0.76" stop-color="rgb(148,150,200)"/><stop offset="0.88" stop-color="rgb(85,98,170)"/><stop offset="1" stop-color="rgb(30,70,155)"/></linearGradient><linearGradient id="bell" gradientUnits="userSpaceOnUse" x1="104.5" y1="0" x2="242.4" y2="0"><stop offset="0" stop-color="rgb(120,120,192)"/><stop offset="0.52" stop-color="#ffffff"/><stop offset="1" stop-color="rgb(235,115,120)"/></linearGradient></defs>
<rect x="164.4" y="352.8" width="7.7" height="38" fill="url(#lg1)"/>
<line x1="172.1" y1="352.8" x2="175.1" y2="352.8" stroke="#333" stroke-width="0.6"/>
<text x="176.6" y="354.40" class="t6t">0.1</text>
<line x1="172.1" y1="371.8" x2="175.1" y2="371.8" stroke="#333" stroke-width="0.6"/>
<text x="176.6" y="373.40" class="t6t">0</text>
<line x1="172.1" y1="390.5" x2="175.1" y2="390.5" stroke="#333" stroke-width="0.6"/>
<text x="176.6" y="392.10" class="t6t">-0.1</text>
<text x="174.5" y="338.5" class="t6" text-anchor="middle">log odds</text>
<text x="174.5" y="345.4" class="t6" text-anchor="middle">ratio</text>
<path d="M104.5,76.50 L104.50,75.19 L105.00,75.12 L105.50,75.04 L106.00,74.96 L106.50,74.87 L107.00,74.78 L107.50,74.69 L108.00,74.59 L108.50,74.49 L109.00,74.38 L109.50,74.27 L110.00,74.15 L110.50,74.03 L111.00,73.90 L111.50,73.77 L112.00,73.63 L112.50,73.49 L113.00,73.34 L113.50,73.18 L114.00,73.02 L114.50,72.85 L115.00,72.68 L115.50,72.49 L116.00,72.30 L116.50,72.11 L117.00,71.90 L117.50,71.69 L118.00,71.47 L118.50,71.24 L119.00,71.01 L119.50,70.76 L120.00,70.51 L120.50,70.25 L121.00,69.98 L121.50,69.70 L122.00,69.41 L122.50,69.11 L123.00,68.81 L123.50,68.49 L124.00,68.16 L124.50,67.83 L125.00,67.48 L125.50,67.12 L126.00,66.76 L126.50,66.38 L127.00,65.99 L127.50,65.59 L128.00,65.18 L128.50,64.76 L129.00,64.33 L129.50,63.89 L130.00,63.44 L130.50,62.98 L131.00,62.50 L131.50,62.02 L132.00,61.52 L132.50,61.02 L133.00,60.50 L133.50,59.97 L134.00,59.43 L134.50,58.88 L135.00,58.32 L135.50,57.75 L136.00,57.17 L136.50,56.58 L137.00,55.98 L137.50,55.37 L138.00,54.75 L138.50,54.12 L139.00,53.48 L139.50,52.83 L140.00,52.17 L140.50,51.51 L141.00,50.83 L141.50,50.15 L142.00,49.47 L142.50,48.77 L143.00,48.07 L143.50,47.36 L144.00,46.65 L144.50,45.93 L145.00,45.20 L145.50,44.47 L146.00,43.74 L146.50,43.00 L147.00,42.26 L147.50,41.52 L148.00,40.78 L148.50,40.03 L149.00,39.28 L149.50,38.54 L150.00,37.79 L150.50,37.04 L151.00,36.30 L151.50,35.55 L152.00,34.81 L152.50,34.08 L153.00,33.35 L153.50,32.62 L154.00,31.89 L154.50,31.18 L155.00,30.47 L155.50,29.76 L156.00,29.07 L156.50,28.38 L157.00,27.71 L157.50,27.04 L158.00,26.38 L158.50,25.74 L159.00,25.10 L159.50,24.48 L160.00,23.87 L160.50,23.28 L161.00,22.70 L161.50,22.14 L162.00,21.59 L162.50,21.06 L163.00,20.54 L163.50,20.04 L164.00,19.56 L164.50,19.10 L165.00,18.66 L165.50,18.24 L166.00,17.83 L166.50,17.45 L167.00,17.09 L167.50,16.75 L168.00,16.43 L168.50,16.14 L169.00,15.86 L169.50,15.61 L170.00,15.38 L170.50,15.18 L171.00,15.00 L171.50,14.84 L172.00,14.70 L172.50,14.60 L173.00,14.51 L173.50,14.45 L174.00,14.41 L174.50,14.40 L175.00,14.41 L175.50,14.45 L176.00,14.51 L176.50,14.60 L177.00,14.70 L177.50,14.84 L178.00,15.00 L178.50,15.18 L179.00,15.38 L179.50,15.61 L180.00,15.86 L180.50,16.14 L181.00,16.43 L181.50,16.75 L182.00,17.09 L182.50,17.45 L183.00,17.83 L183.50,18.24 L184.00,18.66 L184.50,19.10 L185.00,19.56 L185.50,20.04 L186.00,20.54 L186.50,21.06 L187.00,21.59 L187.50,22.14 L188.00,22.70 L188.50,23.28 L189.00,23.87 L189.50,24.48 L190.00,25.10 L190.50,25.74 L191.00,26.38 L191.50,27.04 L192.00,27.71 L192.50,28.38 L193.00,29.07 L193.50,29.76 L194.00,30.47 L194.50,31.18 L195.00,31.89 L195.50,32.62 L196.00,33.35 L196.50,34.08 L197.00,34.81 L197.50,35.55 L198.00,36.30 L198.50,37.04 L199.00,37.79 L199.50,38.54 L200.00,39.28 L200.50,40.03 L201.00,40.78 L201.50,41.52 L202.00,42.26 L202.50,43.00 L203.00,43.74 L203.50,44.47 L204.00,45.20 L204.50,45.93 L205.00,46.65 L205.50,47.36 L206.00,48.07 L206.50,48.77 L207.00,49.47 L207.50,50.15 L208.00,50.83 L208.50,51.51 L209.00,52.17 L209.50,52.83 L210.00,53.48 L210.50,54.12 L211.00,54.75 L211.50,55.37 L212.00,55.98 L212.50,56.58 L213.00,57.17 L213.50,57.75 L214.00,58.32 L214.50,58.88 L215.00,59.43 L215.50,59.97 L216.00,60.50 L216.50,61.02 L217.00,61.52 L217.50,62.02 L218.00,62.50 L218.50,62.98 L219.00,63.44 L219.50,63.89 L220.00,64.33 L220.50,64.76 L221.00,65.18 L221.50,65.59 L222.00,65.99 L222.50,66.38 L223.00,66.76 L223.50,67.12 L224.00,67.48 L224.50,67.83 L225.00,68.16 L225.50,68.49 L226.00,68.81 L226.50,69.11 L227.00,69.41 L227.50,69.70 L228.00,69.98 L228.50,70.25 L229.00,70.51 L229.50,70.76 L230.00,71.01 L230.50,71.24 L231.00,71.47 L231.50,71.69 L232.00,71.90 L232.50,72.11 L233.00,72.30 L233.50,72.49 L234.00,72.68 L234.50,72.85 L235.00,73.02 L235.50,73.18 L236.00,73.34 L236.50,73.49 L237.00,73.63 L237.50,73.77 L238.00,73.90 L238.50,74.03 L239.00,74.15 L239.50,74.27 L240.00,74.38 L240.50,74.49 L241.00,74.59 L241.50,74.69 L242.00,74.78 L242.4,76.50 Z" fill="url(#bell)"/>
<path d="M1.00,76.50 L1.50,76.50 L2.00,76.50 L2.50,76.50 L3.00,76.50 L3.50,76.50 L4.00,76.50 L4.50,76.50 L5.00,76.50 L5.50,76.50 L6.00,76.50 L6.50,76.50 L7.00,76.50 L7.50,76.50 L8.00,76.50 L8.50,76.50 L9.00,76.50 L9.50,76.50 L10.00,76.50 L10.50,76.50 L11.00,76.50 L11.50,76.50 L12.00,76.50 L12.50,76.50 L13.00,76.50 L13.50,76.50 L14.00,76.50 L14.50,76.50 L15.00,76.50 L15.50,76.50 L16.00,76.50 L16.50,76.50 L17.00,76.50 L17.50,76.50 L18.00,76.50 L18.50,76.50 L19.00,76.50 L19.50,76.50 L20.00,76.50 L20.50,76.50 L21.00,76.50 L21.50,76.50 L22.00,76.50 L22.50,76.50 L23.00,76.50 L23.50,76.50 L24.00,76.50 L24.50,76.50 L25.00,76.50 L25.50,76.50 L26.00,76.50 L26.50,76.50 L27.00,76.50 L27.50,76.50 L28.00,76.50 L28.50,76.50 L29.00,76.50 L29.50,76.50 L30.00,76.50 L30.50,76.50 L31.00,76.50 L31.50,76.50 L32.00,76.50 L32.50,76.50 L33.00,76.50 L33.50,76.50 L34.00,76.50 L34.50,76.50 L35.00,76.50 L35.50,76.50 L36.00,76.50 L36.50,76.50 L37.00,76.50 L37.50,76.50 L38.00,76.50 L38.50,76.50 L39.00,76.50 L39.50,76.50 L40.00,76.50 L40.50,76.50 L41.00,76.50 L41.50,76.50 L42.00,76.50 L42.50,76.50 L43.00,76.50 L43.50,76.50 L44.00,76.50 L44.50,76.50 L45.00,76.50 L45.50,76.50 L46.00,76.50 L46.50,76.50 L47.00,76.50 L47.50,76.50 L48.00,76.50 L48.50,76.50 L49.00,76.50 L49.50,76.50 L50.00,76.50 L50.50,76.50 L51.00,76.50 L51.50,76.50 L52.00,76.50 L52.50,76.50 L53.00,76.50 L53.50,76.50 L54.00,76.50 L54.50,76.50 L55.00,76.50 L55.50,76.50 L56.00,76.50 L56.50,76.50 L57.00,76.50 L57.50,76.50 L58.00,76.50 L58.50,76.50 L59.00,76.50 L59.50,76.50 L60.00,76.50 L60.50,76.50 L61.00,76.50 L61.50,76.50 L62.00,76.50 L62.50,76.50 L63.00,76.50 L63.50,76.50 L64.00,76.50 L64.50,76.50 L65.00,76.50 L65.50,76.49 L66.00,76.49 L66.50,76.49 L67.00,76.49 L67.50,76.49 L68.00,76.49 L68.50,76.49 L69.00,76.49 L69.50,76.49 L70.00,76.49 L70.50,76.49 L71.00,76.49 L71.50,76.49 L72.00,76.48 L72.50,76.48 L73.00,76.48 L73.50,76.48 L74.00,76.48 L74.50,76.48 L75.00,76.47 L75.50,76.47 L76.00,76.47 L76.50,76.47 L77.00,76.47 L77.50,76.46 L78.00,76.46 L78.50,76.46 L79.00,76.45 L79.50,76.45 L80.00,76.45 L80.50,76.44 L81.00,76.44 L81.50,76.43 L82.00,76.43 L82.50,76.42 L83.00,76.41 L83.50,76.41 L84.00,76.40 L84.50,76.39 L85.00,76.39 L85.50,76.38 L86.00,76.37 L86.50,76.36 L87.00,76.35 L87.50,76.34 L88.00,76.33 L88.50,76.32 L89.00,76.30 L89.50,76.29 L90.00,76.28 L90.50,76.26 L91.00,76.24 L91.50,76.23 L92.00,76.21 L92.50,76.19 L93.00,76.17 L93.50,76.15 L94.00,76.12 L94.50,76.10 L95.00,76.07 L95.50,76.04 L96.00,76.01 L96.50,75.98 L97.00,75.95 L97.50,75.92 L98.00,75.88 L98.50,75.84 L99.00,75.80 L99.50,75.76 L100.00,75.71 L100.50,75.67 L101.00,75.62 L101.50,75.56 L102.00,75.51 L102.50,75.45 L103.00,75.39 L103.50,75.33 L104.00,75.26 L104.50,75.19 L105.00,75.12 L105.50,75.04 L106.00,74.96 L106.50,74.87 L107.00,74.78 L107.50,74.69 L108.00,74.59 L108.50,74.49 L109.00,74.38 L109.50,74.27 L110.00,74.15 L110.50,74.03 L111.00,73.90 L111.50,73.77 L112.00,73.63 L112.50,73.49 L113.00,73.34 L113.50,73.18 L114.00,73.02 L114.50,72.85 L115.00,72.68 L115.50,72.49 L116.00,72.30 L116.50,72.11 L117.00,71.90 L117.50,71.69 L118.00,71.47 L118.50,71.24 L119.00,71.01 L119.50,70.76 L120.00,70.51 L120.50,70.25 L121.00,69.98 L121.50,69.70 L122.00,69.41 L122.50,69.11 L123.00,68.81 L123.50,68.49 L124.00,68.16 L124.50,67.83 L125.00,67.48 L125.50,67.12 L126.00,66.76 L126.50,66.38 L127.00,65.99 L127.50,65.59 L128.00,65.18 L128.50,64.76 L129.00,64.33 L129.50,63.89 L130.00,63.44 L130.50,62.98 L131.00,62.50 L131.50,62.02 L132.00,61.52 L132.50,61.02 L133.00,60.50 L133.50,59.97 L134.00,59.43 L134.50,58.88 L135.00,58.32 L135.50,57.75 L136.00,57.17 L136.50,56.58 L137.00,55.98 L137.50,55.37 L138.00,54.75 L138.50,54.12 L139.00,53.48 L139.50,52.83 L140.00,52.17 L140.50,51.51 L141.00,50.83 L141.50,50.15 L142.00,49.47 L142.50,48.77 L143.00,48.07 L143.50,47.36 L144.00,46.65 L144.50,45.93 L145.00,45.20 L145.50,44.47 L146.00,43.74 L146.50,43.00 L147.00,42.26 L147.50,41.52 L148.00,40.78 L148.50,40.03 L149.00,39.28 L149.50,38.54 L150.00,37.79 L150.50,37.04 L151.00,36.30 L151.50,35.55 L152.00,34.81 L152.50,34.08 L153.00,33.35 L153.50,32.62 L154.00,31.89 L154.50,31.18 L155.00,30.47 L155.50,29.76 L156.00,29.07 L156.50,28.38 L157.00,27.71 L157.50,27.04 L158.00,26.38 L158.50,25.74 L159.00,25.10 L159.50,24.48 L160.00,23.87 L160.50,23.28 L161.00,22.70 L161.50,22.14 L162.00,21.59 L162.50,21.06 L163.00,20.54 L163.50,20.04 L164.00,19.56 L164.50,19.10 L165.00,18.66 L165.50,18.24 L166.00,17.83 L166.50,17.45 L167.00,17.09 L167.50,16.75 L168.00,16.43 L168.50,16.14 L169.00,15.86 L169.50,15.61 L170.00,15.38 L170.50,15.18 L171.00,15.00 L171.50,14.84 L172.00,14.70 L172.50,14.60 L173.00,14.51 L173.50,14.45 L174.00,14.41 L174.50,14.40 L175.00,14.41 L175.50,14.45 L176.00,14.51 L176.50,14.60 L177.00,14.70 L177.50,14.84 L178.00,15.00 L178.50,15.18 L179.00,15.38 L179.50,15.61 L180.00,15.86 L180.50,16.14 L181.00,16.43 L181.50,16.75 L182.00,17.09 L182.50,17.45 L183.00,17.83 L183.50,18.24 L184.00,18.66 L184.50,19.10 L185.00,19.56 L185.50,20.04 L186.00,20.54 L186.50,21.06 L187.00,21.59 L187.50,22.14 L188.00,22.70 L188.50,23.28 L189.00,23.87 L189.50,24.48 L190.00,25.10 L190.50,25.74 L191.00,26.38 L191.50,27.04 L192.00,27.71 L192.50,28.38 L193.00,29.07 L193.50,29.76 L194.00,30.47 L194.50,31.18 L195.00,31.89 L195.50,32.62 L196.00,33.35 L196.50,34.08 L197.00,34.81 L197.50,35.55 L198.00,36.30 L198.50,37.04 L199.00,37.79 L199.50,38.54 L200.00,39.28 L200.50,40.03 L201.00,40.78 L201.50,41.52 L202.00,42.26 L202.50,43.00 L203.00,43.74 L203.50,44.47 L204.00,45.20 L204.50,45.93 L205.00,46.65 L205.50,47.36 L206.00,48.07 L206.50,48.77 L207.00,49.47 L207.50,50.15 L208.00,50.83 L208.50,51.51 L209.00,52.17 L209.50,52.83 L210.00,53.48 L210.50,54.12 L211.00,54.75 L211.50,55.37 L212.00,55.98 L212.50,56.58 L213.00,57.17 L213.50,57.75 L214.00,58.32 L214.50,58.88 L215.00,59.43 L215.50,59.97 L216.00,60.50 L216.50,61.02 L217.00,61.52 L217.50,62.02 L218.00,62.50 L218.50,62.98 L219.00,63.44 L219.50,63.89 L220.00,64.33 L220.50,64.76 L221.00,65.18 L221.50,65.59 L222.00,65.99 L222.50,66.38 L223.00,66.76 L223.50,67.12 L224.00,67.48 L224.50,67.83 L225.00,68.16 L225.50,68.49 L226.00,68.81 L226.50,69.11 L227.00,69.41 L227.50,69.70 L228.00,69.98 L228.50,70.25 L229.00,70.51 L229.50,70.76 L230.00,71.01 L230.50,71.24 L231.00,71.47 L231.50,71.69 L232.00,71.90 L232.50,72.11 L233.00,72.30 L233.50,72.49 L234.00,72.68 L234.50,72.85 L235.00,73.02 L235.50,73.18 L236.00,73.34 L236.50,73.49 L237.00,73.63 L237.50,73.77 L238.00,73.90 L238.50,74.03 L239.00,74.15 L239.50,74.27 L240.00,74.38 L240.50,74.49 L241.00,74.59 L241.50,74.69 L242.00,74.78 L242.50,74.87 L243.00,74.96 L243.50,75.04 L244.00,75.12 L244.50,75.19 L245.00,75.26 L245.50,75.33 L246.00,75.39 L246.50,75.45 L247.00,75.51 L247.50,75.56 L248.00,75.62 L248.50,75.67 L249.00,75.71 L249.50,75.76 L250.00,75.80 L250.50,75.84 L251.00,75.88 L251.50,75.92 L252.00,75.95 L252.50,75.98 L253.00,76.01 L253.50,76.04 L254.00,76.07 L254.50,76.10 L255.00,76.12 L255.50,76.15 L256.00,76.17 L256.50,76.19 L257.00,76.21 L257.50,76.23 L258.00,76.24 L258.50,76.26 L259.00,76.28 L259.50,76.29 L260.00,76.30 L260.50,76.32 L261.00,76.33 L261.50,76.34 L262.00,76.35 L262.50,76.36 L263.00,76.37 L263.50,76.38 L264.00,76.39 L264.50,76.39 L265.00,76.40 L265.50,76.41 L266.00,76.41 L266.50,76.42 L267.00,76.43 L267.50,76.43 L268.00,76.44 L268.50,76.44 L269.00,76.45 L269.50,76.45 L270.00,76.45 L270.50,76.46 L271.00,76.46 L271.50,76.46 L272.00,76.47 L272.50,76.47 L273.00,76.47 L273.50,76.47 L274.00,76.47 L274.50,76.48 L275.00,76.48 L275.50,76.48 L276.00,76.48 L276.50,76.48 L277.00,76.48 L277.50,76.49 L278.00,76.49 L278.50,76.49 L279.00,76.49 L279.50,76.49 L280.00,76.49 L280.50,76.49 L281.00,76.49 L281.50,76.49 L282.00,76.49 L282.50,76.49 L283.00,76.49 L283.50,76.49 L284.00,76.50 L284.50,76.50 L285.00,76.50 L285.50,76.50 L286.00,76.50 L286.50,76.50 L287.00,76.50 L287.50,76.50 L288.00,76.50 L288.50,76.50 L289.00,76.50 L289.50,76.50 L290.00,76.50 L290.50,76.50 L291.00,76.50 L291.50,76.50 L292.00,76.50 L292.50,76.50 L293.00,76.50 L293.50,76.50 L294.00,76.50 L294.50,76.50 L295.00,76.50 L295.50,76.50 L296.00,76.50 L296.50,76.50 L297.00,76.50 L297.50,76.50 L298.00,76.50 L298.50,76.50 L299.00,76.50 L299.50,76.50 L300.00,76.50 L300.50,76.50 L301.00,76.50 L301.50,76.50 L302.00,76.50 L302.50,76.50 L303.00,76.50 L303.50,76.50 L304.00,76.50 L304.50,76.50 L305.00,76.50 L305.50,76.50 L306.00,76.50 L306.50,76.50 L307.00,76.50 L307.50,76.50 L308.00,76.50 L308.50,76.50 L309.00,76.50 L309.50,76.50 L310.00,76.50 L310.50,76.50 L311.00,76.50 L311.50,76.50 L312.00,76.50 L312.50,76.50 L313.00,76.50 L313.50,76.50 L314.00,76.50 L314.50,76.50 L315.00,76.50 L315.50,76.50 L316.00,76.50 L316.50,76.50 L317.00,76.50 L317.50,76.50 L318.00,76.50 L318.50,76.50 L319.00,76.50 L319.50,76.50 L320.00,76.50 L320.50,76.50 L321.00,76.50 L321.50,76.50 L322.00,76.50 L322.50,76.50 L323.00,76.50 L323.50,76.50 L324.00,76.50 L324.50,76.50 L325.00,76.50 L325.50,76.50 L326.00,76.50 L326.50,76.50 L327.00,76.50 L327.50,76.50 L328.00,76.50 L328.50,76.50 L329.00,76.50 L329.50,76.50 L330.00,76.50 L330.50,76.50 L331.00,76.50 L331.50,76.50 L332.00,76.50 L332.50,76.50 L333.00,76.50 L333.50,76.50 L334.00,76.50 L334.50,76.50 L335.00,76.50 L335.50,76.50 L336.00,76.50 L336.50,76.50 L337.00,76.50 L337.50,76.50 L338.00,76.50 L338.50,76.50 L339.00,76.50 L339.50,76.50 L340.00,76.50 L340.50,76.50 L341.00,76.50 L341.50,76.50 L342.00,76.50 L342.50,76.50 L343.00,76.50 L343.50,76.50 L344.00,76.50 L344.50,76.50 L345.00,76.50 L345.50,76.50 L346.00,76.50 L346.50,76.50 L347.00,76.50 L347.50,76.50 L348.00,76.50 L348.50,76.50 L349.00,76.50 L349.50,76.50 L350.00,76.50" fill="none" stroke="#3a3a3a" stroke-width="0.9"/>
<line x1="104.5" y1="28.3" x2="104.5" y2="77.2" stroke="#3a3a3a" stroke-width="0.9" stroke-dasharray="6.8,6.6"/>
<line x1="242.4" y1="28.3" x2="242.4" y2="77.2" stroke="#3a3a3a" stroke-width="0.9" stroke-dasharray="6.8,6.6"/>
<text x="54.7" y="41.7" class="t8" text-anchor="middle">Low aging risk</text>
<text x="294.6" y="40.0" class="t8" text-anchor="middle">High aging risk</text>
<g transform="translate(0,0)" fill="none" stroke="#000" stroke-linecap="round" stroke-linejoin="round"><circle cx="48.5" cy="47.8" r="1.6" fill="#000" stroke="none"/><path d="M46.6,50.6 Q47.8,49.8 49.2,50.3 L49.3,52.5 L48.9,57.6 L46.5,57.6 L46.3,53.0 Z" fill="#000" stroke="none"/><path d="M47.0,51.0 L45.4,52.6 L43.8,55.2" stroke-width="1.3"/><path d="M49.0,51.2 L50.2,53.7 L52.3,55.3" stroke-width="1.2"/><path d="M47.1,57.2 L45.6,60.4 L43.7,63.4" stroke-width="1.5"/><path d="M48.3,57.2 L50.7,59.1 L51.1,63.5" stroke-width="1.5"/></g>
<g transform="translate(12.1,0)" fill="none" stroke="#000" stroke-linecap="round" stroke-linejoin="round"><circle cx="48.5" cy="47.8" r="1.6" fill="#000" stroke="none"/><path d="M46.6,50.6 Q47.8,49.8 49.2,50.3 L49.3,52.5 L48.9,57.6 L46.5,57.6 L46.3,53.0 Z" fill="#000" stroke="none"/><path d="M47.0,51.0 L45.4,52.6 L43.8,55.2" stroke-width="1.3"/><path d="M49.0,51.2 L50.2,53.7 L52.3,55.3" stroke-width="1.2"/><path d="M47.1,57.2 L45.6,60.4 L43.7,63.4" stroke-width="1.5"/><path d="M48.3,57.2 L50.7,59.1 L51.1,63.5" stroke-width="1.5"/></g>
<g transform="translate(0,0)" fill="none" stroke="#000" stroke-linecap="round" stroke-linejoin="round"><ellipse cx="289.2" cy="48.0" rx="1.9" ry="1.7" fill="#000" stroke="none"/><path d="M283.2,52.6 Q283.6,50.5 285.6,50.4 L287.7,50.6 L286.6,58.2 L283.6,58.2 L283.3,54.5 Z" fill="#000" stroke="none"/><path d="M287.4,51.2 L289.6,55.9 L292.8,57.5" stroke-width="1.2"/><path d="M291.7,57.4 L293.3,57.4" stroke-width="1.0"/><path d="M292.8,57.4 L292.8,64.6" stroke-width="1.1"/><path d="M284.5,57.8 L283.3,61.5 L282.6,64.4" stroke-width="1.5"/><path d="M285.9,57.8 L287.8,60.1 L287.9,64.5" stroke-width="1.5"/></g>
<g transform="translate(13.7,0)" fill="none" stroke="#000" stroke-linecap="round" stroke-linejoin="round"><ellipse cx="289.2" cy="48.0" rx="1.9" ry="1.7" fill="#000" stroke="none"/><path d="M283.2,52.6 Q283.6,50.5 285.6,50.4 L287.7,50.6 L286.6,58.2 L283.6,58.2 L283.3,54.5 Z" fill="#000" stroke="none"/><path d="M287.4,51.2 L289.6,55.9 L292.8,57.5" stroke-width="1.2"/><path d="M291.7,57.4 L293.3,57.4" stroke-width="1.0"/><path d="M292.8,57.4 L292.8,64.6" stroke-width="1.1"/><path d="M284.5,57.8 L283.3,61.5 L282.6,64.4" stroke-width="1.5"/><path d="M285.9,57.8 L287.8,60.1 L287.9,64.5" stroke-width="1.5"/></g>
<text x="-0.6" y="6.1" class="pl">a</text>
<text x="357.9" y="8.7" class="pl">b</text>
<text x="357.8" y="296.8" class="pl">c</text>
<text x="388.4" y="19.9" class="t7" text-anchor="middle">Exposure</text>
<text x="430.9" y="19.9" class="t7" text-anchor="middle">Outcome</text>
<text x="482.8" y="19.9" class="t7" text-anchor="middle">Method</text>
<text x="615.9" y="19.9" class="t7" text-anchor="middle">OR(95% CI)</text>
<text x="665.5" y="19.9" class="t7" text-anchor="middle">P-value</text>
<line x1="368.8" y1="23.3" x2="682.8" y2="23.3" stroke="#4a4a4a" stroke-width="1.1"/>
<line x1="368.8" y1="102.3" x2="682.8" y2="102.3" stroke="#4a4a4a" stroke-width="1.1"/>
<line x1="368.8" y1="180.2" x2="682.8" y2="180.2" stroke="#4a4a4a" stroke-width="1.1"/>
<line x1="368.8" y1="263.4" x2="682.8" y2="263.4" stroke="#4a4a4a" stroke-width="1.1"/>
<line x1="531.3" y1="24.6" x2="531.3" y2="263" stroke="#cfcfcf" stroke-width="0.9" stroke-dasharray="5.9,3.32"/>
<text x="379.4" y="67.7" class="t7">Heart</text>
<text x="430.9" y="67.60" class="t7" text-anchor="middle">Heart Failure</text>
<text x="482.8" y="36.10" class="t7" text-anchor="middle">IVW</text>
<line x1="541.42" y1="33.6" x2="559.13" y2="33.6" stroke="#7e2f8e" stroke-opacity="0.72" stroke-width="0.9"/>
<polygon points="547.52,33.6 550.27,30.80 553.02,33.6 550.27,36.40" fill="#7e2f8e" stroke="#7e2f8e" stroke-width="0.5" stroke-linejoin="round"/>
<text x="614.1" y="33.00" class="t7" text-anchor="middle">1.15(1.08-1.22)</text>
<text x="652.0" y="33.00" class="t7">1.84×10<tspan class="sup" dy="-2.6">-5</tspan></text>
<text x="482.8" y="51.80" class="t7" text-anchor="middle">MR-RAPS</text>
<line x1="541.42" y1="49.3" x2="561.66" y2="49.3" stroke="#7e2f8e" stroke-opacity="0.72" stroke-width="0.9"/>
<polygon points="548.79,49.3 551.54,46.50 554.29,49.3 551.54,52.10" fill="#7e2f8e" stroke="#7e2f8e" stroke-width="0.5" stroke-linejoin="round"/>
<text x="614.1" y="48.40" class="t7" text-anchor="middle">1.16(1.08-1.24)</text>
<text x="652.0" y="48.40" class="t7">1.92×10<tspan class="sup" dy="-2.6">-5</tspan></text>
<text x="482.8" y="67.50" class="t7" text-anchor="middle">weighted median</text>
<line x1="542.68" y1="65.0" x2="569.25" y2="65.0" stroke="#7e2f8e" stroke-opacity="0.72" stroke-width="0.9"/>
<polygon points="552.58,65.0 555.33,62.20 558.08,65.0 555.33,67.80" fill="#7e2f8e" stroke="#7e2f8e" stroke-width="0.5" stroke-linejoin="round"/>
<text x="614.1" y="64.10" class="t7" text-anchor="middle">1.19(1.09-1.30)</text>
<text x="652.0" y="64.10" class="t7">1.76×10<tspan class="sup" dy="-2.6">-4</tspan></text>
<text x="482.8" y="83.20" class="t7" text-anchor="middle">weighted mode</text>
<line x1="536.36" y1="80.7" x2="583.16" y2="80.7" stroke="#7e2f8e" stroke-opacity="0.72" stroke-width="0.9"/>
<polygon points="555.11,80.7 557.86,77.90 560.61,80.7 557.86,83.50" fill="#7e2f8e" stroke="#7e2f8e" stroke-width="0.5" stroke-linejoin="round"/>
<text x="614.1" y="79.30" class="t7" text-anchor="middle">1.21(1.04-1.41)</text>
<text x="666.0" y="79.30" class="t7" text-anchor="middle">0.02</text>
<text x="482.8" y="98.00" class="t7" text-anchor="middle">MR-Egger</text>
<line x1="527.50" y1="96.3" x2="566.72" y2="96.3" stroke="#7e2f8e" stroke-opacity="0.72" stroke-width="0.9"/>
<polygon points="542.46,96.3 545.21,93.50 547.96,96.3 545.21,99.10" fill="#7e2f8e" stroke="#7e2f8e" stroke-width="0.5" stroke-linejoin="round"/>
<text x="614.1" y="94.50" class="t7" text-anchor="middle">1.11(0.97-1.28)</text>
<text x="666.0" y="94.50" class="t7" text-anchor="middle">0.13</text>
<text x="379.4" y="144.6" class="t7">Muscle</text>
<text x="430.9" y="144.50" class="t7" text-anchor="middle">Heart Failure</text>
<text x="482.8" y="113.10" class="t7" text-anchor="middle">IVW</text>
<line x1="541.42" y1="111.6" x2="561.66" y2="111.6" stroke="#7e2f8e" stroke-opacity="0.72" stroke-width="0.9"/>
<polygon points="548.79,111.6 551.54,108.80 554.29,111.6 551.54,114.40" fill="#7e2f8e" stroke="#7e2f8e" stroke-width="0.5" stroke-linejoin="round"/>
<text x="614.1" y="114.10" class="t7" text-anchor="middle">1.16(1.08-1.24)</text>
<text x="652.0" y="114.10" class="t7">2.24×10<tspan class="sup" dy="-2.6">-5</tspan></text>
<text x="482.8" y="128.80" class="t7" text-anchor="middle">MR-RAPS</text>
<line x1="543.95" y1="127.3" x2="565.45" y2="127.3" stroke="#7e2f8e" stroke-opacity="0.72" stroke-width="0.9"/>
<polygon points="551.32,127.3 554.07,124.50 556.82,127.3 554.07,130.10" fill="#7e2f8e" stroke="#7e2f8e" stroke-width="0.5" stroke-linejoin="round"/>
<text x="614.1" y="129.50" class="t7" text-anchor="middle">1.18(1.10-1.27)</text>
<text x="652.0" y="129.50" class="t7">1.10×10<tspan class="sup" dy="-2.6">-5</tspan></text>
<text x="482.8" y="144.10" class="t7" text-anchor="middle">weighted median</text>
<line x1="541.42" y1="143.0" x2="569.25" y2="143.0" stroke="#7e2f8e" stroke-opacity="0.72" stroke-width="0.9"/>
<polygon points="551.32,143.0 554.07,140.20 556.82,143.0 554.07,145.80" fill="#7e2f8e" stroke="#7e2f8e" stroke-width="0.5" stroke-linejoin="round"/>
<text x="614.1" y="144.30" class="t7" text-anchor="middle">1.18(1.08-1.30)</text>
<text x="652.0" y="144.30" class="t7">5.00×10<tspan class="sup" dy="-2.6">-4</tspan></text>
<text x="482.8" y="160.00" class="t7" text-anchor="middle">weighted mode</text>
<line x1="533.83" y1="158.7" x2="580.63" y2="158.7" stroke="#7e2f8e" stroke-opacity="0.72" stroke-width="0.9"/>
<polygon points="552.58,158.7 555.33,155.90 558.08,158.7 555.33,161.50" fill="#7e2f8e" stroke="#7e2f8e" stroke-width="0.5" stroke-linejoin="round"/>
<text x="614.1" y="159.70" class="t7" text-anchor="middle">1.19(1.02-1.39)</text>
<text x="666.0" y="159.70" class="t7" text-anchor="middle">0.04</text>
<text x="482.8" y="174.80" class="t7" text-anchor="middle">MR-Egger</text>
<line x1="523.71" y1="174.3" x2="573.04" y2="174.3" stroke="#7e2f8e" stroke-opacity="0.72" stroke-width="0.9"/>
<polygon points="543.73,174.3 546.48,171.50 549.23,174.3 546.48,177.10" fill="#7e2f8e" stroke="#7e2f8e" stroke-width="0.5" stroke-linejoin="round"/>
<text x="614.1" y="175.10" class="t7" text-anchor="middle">1.12(0.94-1.33)</text>
<text x="666.0" y="175.10" class="t7" text-anchor="middle">0.22</text>
<text x="379.4" y="223.5" class="t7">Kidney</text>
<text x="430.9" y="224.20" class="t7" text-anchor="middle">Hypertension</text>
<text x="482.8" y="193.00" class="t7" text-anchor="middle">IVW</text>
<line x1="535.09" y1="189.9" x2="542.68" y2="189.9" stroke="#7e2f8e" stroke-opacity="0.72" stroke-width="0.9"/>
<polygon points="536.14,189.9 538.89,187.10 541.64,189.9 538.89,192.70" fill="#7e2f8e" stroke="#7e2f8e" stroke-width="0.5" stroke-linejoin="round"/>
<text x="614.1" y="193.70" class="t7" text-anchor="middle">1.06(1.03-1.09)</text>
<text x="652.0" y="193.70" class="t7">1.71×10<tspan class="sup" dy="-2.6">-4</tspan></text>
<text x="482.8" y="208.50" class="t7" text-anchor="middle">MR-RAPS</text>
<line x1="533.83" y1="205.6" x2="542.68" y2="205.6" stroke="#7e2f8e" stroke-opacity="0.72" stroke-width="0.9"/>
<polygon points="534.88,205.6 537.62,202.80 540.38,205.6 537.62,208.40" fill="#7e2f8e" stroke="#7e2f8e" stroke-width="0.5" stroke-linejoin="round"/>
<text x="614.1" y="208.90" class="t7" text-anchor="middle">1.05(1.02-1.09)</text>
<text x="652.0" y="208.90" class="t7">5.84×10<tspan class="sup" dy="-2.6">-4</tspan></text>
<text x="482.8" y="223.80" class="t7" text-anchor="middle">weighted median</text>
<line x1="531.30" y1="221.3" x2="540.15" y2="221.3" stroke="#7e2f8e" stroke-opacity="0.72" stroke-width="0.9"/>
<polygon points="532.34,221.3 535.09,218.50 537.84,221.3 535.09,224.10" fill="#7e2f8e" stroke="#7e2f8e" stroke-width="0.5" stroke-linejoin="round"/>
<text x="614.1" y="224.50" class="t7" text-anchor="middle">1.03(1.00-1.07)</text>
<text x="666.0" y="224.50" class="t7" text-anchor="middle">0.09</text>
<text x="482.8" y="238.70" class="t7" text-anchor="middle">weighted mode</text>
<line x1="531.30" y1="237.0" x2="540.15" y2="237.0" stroke="#7e2f8e" stroke-opacity="0.72" stroke-width="0.9"/>
<polygon points="532.34,237.0 535.09,234.20 537.84,237.0 535.09,239.80" fill="#7e2f8e" stroke="#7e2f8e" stroke-width="0.5" stroke-linejoin="round"/>
<text x="614.1" y="239.30" class="t7" text-anchor="middle">1.03(1.00-1.07)</text>
<text x="666.0" y="239.30" class="t7" text-anchor="middle">0.05</text>
<text x="482.8" y="254.20" class="t7" text-anchor="middle">MR-Egger</text>
<line x1="528.77" y1="252.5" x2="540.15" y2="252.5" stroke="#7e2f8e" stroke-opacity="0.72" stroke-width="0.9"/>
<polygon points="531.08,252.5 533.83,249.70 536.58,252.5 533.83,255.30" fill="#7e2f8e" stroke="#7e2f8e" stroke-width="0.5" stroke-linejoin="round"/>
<text x="614.1" y="255.10" class="t7" text-anchor="middle">1.02(0.98-1.07)</text>
<text x="666.0" y="255.10" class="t7" text-anchor="middle">0.31</text>
<line x1="531.30" y1="263.4" x2="531.30" y2="265.2" stroke="#444" stroke-width="0.8"/>
<text x="531.30" y="272.9" class="t7" text-anchor="middle">1.0</text>
<line x1="556.60" y1="263.4" x2="556.60" y2="265.2" stroke="#444" stroke-width="0.8"/>
<text x="556.60" y="272.9" class="t7" text-anchor="middle">1.2</text>
<line x1="581.90" y1="263.4" x2="581.90" y2="265.2" stroke="#444" stroke-width="0.8"/>
<text x="581.90" y="272.9" class="t7" text-anchor="middle">1.4</text>
<text x="556.3" y="282.0" class="t7" text-anchor="middle">OR</text>
<rect x="395.00" y="338.20" width="20.68" height="14.44" fill="rgb(210,210,230)"/>
<rect x="415.38" y="338.20" width="20.68" height="14.44" fill="rgb(228,228,240)"/>
<rect x="435.76" y="338.20" width="20.68" height="14.44" fill="rgb(130,130,193)"/>
<rect x="456.14" y="338.20" width="20.68" height="14.44" fill="rgb(240,240,246)"/>
<rect x="476.52" y="338.20" width="20.68" height="14.44" fill="rgb(176,176,213)"/>
<rect x="496.90" y="338.20" width="20.68" height="14.44" fill="rgb(148,148,198)"/>
<rect x="517.28" y="338.20" width="20.68" height="14.44" fill="rgb(152,152,203)"/>
<rect x="537.66" y="338.20" width="20.68" height="14.44" fill="rgb(200,200,226)"/>
<rect x="558.04" y="338.20" width="20.68" height="14.44" fill="rgb(255,255,255)"/>
<rect x="578.42" y="338.20" width="20.68" height="14.44" fill="rgb(185,185,218)"/>
<rect x="598.80" y="338.20" width="20.68" height="14.44" fill="rgb(142,142,196)"/>
<rect x="619.18" y="338.20" width="20.68" height="14.44" fill="rgb(171,171,210)"/>
<rect x="639.56" y="338.20" width="20.68" height="14.44" fill="rgb(240,170,170)"/>
<rect x="659.94" y="338.20" width="20.68" height="14.44" fill="rgb(148,148,198)"/>
<rect x="395.00" y="352.34" width="20.68" height="14.44" fill="rgb(200,200,226)"/>
<rect x="415.38" y="352.34" width="20.68" height="14.44" fill="rgb(252,230,230)"/>
<rect x="435.76" y="352.34" width="20.68" height="14.44" fill="rgb(255,255,255)"/>
<rect x="456.14" y="352.34" width="20.68" height="14.44" fill="rgb(235,105,105)"/>
<rect x="476.52" y="352.34" width="20.68" height="14.44" fill="rgb(230,230,240)"/>
<rect x="496.90" y="352.34" width="20.68" height="14.44" fill="rgb(238,130,130)"/>
<rect x="517.28" y="352.34" width="20.68" height="14.44" fill="rgb(240,160,160)"/>
<rect x="537.66" y="352.34" width="20.68" height="14.44" fill="rgb(248,210,210)"/>
<rect x="558.04" y="352.34" width="20.68" height="14.44" fill="rgb(250,220,222)"/>
<rect x="578.42" y="352.34" width="20.68" height="14.44" fill="rgb(232,90,90)"/>
<rect x="598.80" y="352.34" width="20.68" height="14.44" fill="rgb(240,240,246)"/>
<rect x="619.18" y="352.34" width="20.68" height="14.44" fill="rgb(248,210,210)"/>
<rect x="639.56" y="352.34" width="20.68" height="14.44" fill="rgb(230,95,95)"/>
<rect x="659.94" y="352.34" width="20.68" height="14.44" fill="rgb(235,115,115)"/>
<rect x="395.00" y="366.48" width="20.68" height="14.44" fill="rgb(255,255,255)"/>
<rect x="415.38" y="366.48" width="20.68" height="14.44" fill="rgb(228,228,238)"/>
<rect x="435.76" y="366.48" width="20.68" height="14.44" fill="rgb(228,60,60)"/>
<rect x="456.14" y="366.48" width="20.68" height="14.44" fill="rgb(228,45,45)"/>
<rect x="476.52" y="366.48" width="20.68" height="14.44" fill="rgb(185,185,218)"/>
<rect x="496.90" y="366.48" width="20.68" height="14.44" fill="rgb(120,120,188)"/>
<rect x="517.28" y="366.48" width="20.68" height="14.44" fill="rgb(200,200,226)"/>
<rect x="537.66" y="366.48" width="20.68" height="14.44" fill="rgb(171,171,210)"/>
<rect x="558.04" y="366.48" width="20.68" height="14.44" fill="rgb(255,248,246)"/>
<rect x="578.42" y="366.48" width="20.68" height="14.44" fill="rgb(195,195,223)"/>
<rect x="598.80" y="366.48" width="20.68" height="14.44" fill="rgb(252,232,230)"/>
<rect x="619.18" y="366.48" width="20.68" height="14.44" fill="rgb(148,148,198)"/>
<rect x="639.56" y="366.48" width="20.68" height="14.44" fill="rgb(255,255,255)"/>
<rect x="659.94" y="366.48" width="20.68" height="14.44" fill="rgb(232,232,240)"/>
<rect x="395.00" y="380.62" width="20.68" height="14.44" fill="rgb(180,180,213)"/>
<rect x="415.38" y="380.62" width="20.68" height="14.44" fill="rgb(240,240,246)"/>
<rect x="435.76" y="380.62" width="20.68" height="14.44" fill="rgb(240,160,160)"/>
<rect x="456.14" y="380.62" width="20.68" height="14.44" fill="rgb(240,160,160)"/>
<rect x="476.52" y="380.62" width="20.68" height="14.44" fill="rgb(248,215,215)"/>
<rect x="496.90" y="380.62" width="20.68" height="14.44" fill="rgb(245,195,195)"/>
<rect x="517.28" y="380.62" width="20.68" height="14.44" fill="rgb(245,190,190)"/>
<rect x="537.66" y="380.62" width="20.68" height="14.44" fill="rgb(235,110,110)"/>
<rect x="558.04" y="380.62" width="20.68" height="14.44" fill="rgb(255,245,243)"/>
<rect x="578.42" y="380.62" width="20.68" height="14.44" fill="rgb(245,175,175)"/>
<rect x="598.80" y="380.62" width="20.68" height="14.44" fill="rgb(222,222,236)"/>
<rect x="619.18" y="380.62" width="20.68" height="14.44" fill="rgb(232,232,240)"/>
<rect x="639.56" y="380.62" width="20.68" height="14.44" fill="rgb(238,145,145)"/>
<rect x="659.94" y="380.62" width="20.68" height="14.44" fill="rgb(125,125,193)"/>
<rect x="395.00" y="394.76" width="20.68" height="14.44" fill="rgb(240,165,165)"/>
<rect x="415.38" y="394.76" width="20.68" height="14.44" fill="rgb(250,215,215)"/>
<rect x="435.76" y="394.76" width="20.68" height="14.44" fill="rgb(250,210,210)"/>
<rect x="456.14" y="394.76" width="20.68" height="14.44" fill="rgb(235,100,100)"/>
<rect x="476.52" y="394.76" width="20.68" height="14.44" fill="rgb(230,230,240)"/>
<rect x="496.90" y="394.76" width="20.68" height="14.44" fill="rgb(245,195,195)"/>
<rect x="517.28" y="394.76" width="20.68" height="14.44" fill="rgb(228,40,40)"/>
<rect x="537.66" y="394.76" width="20.68" height="14.44" fill="rgb(238,140,140)"/>
<rect x="558.04" y="394.76" width="20.68" height="14.44" fill="rgb(245,180,180)"/>
<rect x="578.42" y="394.76" width="20.68" height="14.44" fill="rgb(228,35,35)"/>
<rect x="598.80" y="394.76" width="20.68" height="14.44" fill="rgb(210,210,230)"/>
<rect x="619.18" y="394.76" width="20.68" height="14.44" fill="rgb(245,180,180)"/>
<rect x="639.56" y="394.76" width="20.68" height="14.44" fill="rgb(255,245,243)"/>
<rect x="659.94" y="394.76" width="20.68" height="14.44" fill="rgb(228,35,35)"/>
<polygon points="466.33,358.16 466.85,359.29 468.09,359.44 467.17,360.28 467.42,361.51 466.33,360.90 465.24,361.51 465.49,360.28 464.57,359.44 465.81,359.29" fill="#111"/>
<polygon points="507.09,358.16 507.61,359.29 508.85,359.44 507.93,360.28 508.18,361.51 507.09,360.90 506.00,361.51 506.25,360.28 505.33,359.44 506.57,359.29" fill="#111"/>
<polygon points="586.81,358.16 587.33,359.29 588.57,359.44 587.65,360.28 587.90,361.51 586.81,360.90 585.72,361.51 585.97,360.28 585.05,359.44 586.29,359.29" fill="#111"/><polygon points="590.81,358.16 591.33,359.29 592.57,359.44 591.65,360.28 591.90,361.51 590.81,360.90 589.72,361.51 589.97,360.28 589.05,359.44 590.29,359.29" fill="#111"/>
<polygon points="649.75,358.16 650.27,359.29 651.51,359.44 650.59,360.28 650.84,361.51 649.75,360.90 648.66,361.51 648.91,360.28 647.99,359.44 649.23,359.29" fill="#111"/>
<polygon points="670.13,358.16 670.65,359.29 671.89,359.44 670.97,360.28 671.22,361.51 670.13,360.90 669.04,361.51 669.29,360.28 668.37,359.44 669.61,359.29" fill="#111"/>
<polygon points="445.95,372.30 446.47,373.43 447.71,373.58 446.79,374.42 447.04,375.65 445.95,375.04 444.86,375.65 445.11,374.42 444.19,373.58 445.43,373.43" fill="#111"/>
<polygon points="466.33,372.30 466.85,373.43 468.09,373.58 467.17,374.42 467.42,375.65 466.33,375.04 465.24,375.65 465.49,374.42 464.57,373.58 465.81,373.43" fill="#111"/>
<polygon points="547.85,386.44 548.37,387.57 549.61,387.72 548.69,388.56 548.94,389.79 547.85,389.18 546.76,389.79 547.01,388.56 546.09,387.72 547.33,387.57" fill="#111"/>
<polygon points="466.33,400.58 466.85,401.71 468.09,401.86 467.17,402.70 467.42,403.93 466.33,403.32 465.24,403.93 465.49,402.70 464.57,401.86 465.81,401.71" fill="#111"/>
<polygon points="525.67,400.58 526.19,401.71 527.43,401.86 526.51,402.70 526.76,403.93 525.67,403.32 524.58,403.93 524.83,402.70 523.91,401.86 525.15,401.71" fill="#111"/><polygon points="529.67,400.58 530.19,401.71 531.43,401.86 530.51,402.70 530.76,403.93 529.67,403.32 528.58,403.93 528.83,402.70 527.91,401.86 529.15,401.71" fill="#111"/>
<polygon points="546.05,400.58 546.57,401.71 547.81,401.86 546.89,402.70 547.14,403.93 546.05,403.32 544.96,403.93 545.21,402.70 544.29,401.86 545.53,401.71" fill="#111"/><polygon points="550.05,400.58 550.57,401.71 551.81,401.86 550.89,402.70 551.14,403.93 550.05,403.32 548.96,403.93 549.21,402.70 548.29,401.86 549.53,401.71" fill="#111"/>
<polygon points="586.81,400.58 587.33,401.71 588.57,401.86 587.65,402.70 587.90,403.93 586.81,403.32 585.72,403.93 585.97,402.70 585.05,401.86 586.29,401.71" fill="#111"/><polygon points="590.81,400.58 591.33,401.71 592.57,401.86 591.65,402.70 591.90,403.93 590.81,403.32 589.72,403.93 589.97,402.70 589.05,401.86 590.29,401.71" fill="#111"/>
<polygon points="668.33,400.58 668.85,401.71 670.09,401.86 669.17,402.70 669.42,403.93 668.33,403.32 667.24,403.93 667.49,402.70 666.57,401.86 667.81,401.71" fill="#111"/><polygon points="672.33,400.58 672.85,401.71 674.09,401.86 673.17,402.70 673.42,403.93 672.33,403.32 671.24,403.93 671.49,402.70 670.57,401.86 671.81,401.71" fill="#111"/>
<text transform="translate(407.29,335.5) rotate(-90)" class="t7cc">Adipose</text>
<text transform="translate(427.67,335.5) rotate(-90)" class="t7cc">Artery</text>
<text transform="translate(448.05,335.5) rotate(-90)" class="t7cc">Brain</text>
<text transform="translate(468.43,335.5) rotate(-90)" class="t7cc">Conventional</text>
<text transform="translate(488.81,335.5) rotate(-90)" class="t7cc">Heart</text>
<text transform="translate(509.19,335.5) rotate(-90)" class="t7cc">Immune</text>
<text transform="translate(529.57,335.5) rotate(-90)" class="t7cc">Intestine</text>
<text transform="translate(549.95,335.5) rotate(-90)" class="t7cc">Kidney</text>
<text transform="translate(570.33,335.5) rotate(-90)" class="t7cc">Liver</text>
<text transform="translate(590.71,335.5) rotate(-90)" class="t7cc">Lung</text>
<text transform="translate(611.09,335.5) rotate(-90)" class="t7cc">Muscle</text>
<text transform="translate(631.47,335.5) rotate(-90)" class="t7cc">Pancreas</text>
<text transform="translate(651.85,335.5) rotate(-90)" class="t7cc">Skin</text>
<text transform="translate(672.23,335.5) rotate(-90)" class="t7cc">Stomach</text>
<text x="392.8" y="348.17" class="t7c" text-anchor="end">AgeSmk</text>
<text x="392.8" y="362.31" class="t7c" text-anchor="end">CigDay</text>
<text x="392.8" y="376.45" class="t7c" text-anchor="end">DrnkWk</text>
<text x="392.8" y="390.59" class="t7c" text-anchor="end">SmkCes</text>
<text x="392.8" y="404.73" class="t7c" text-anchor="end">SmkInit</text>
<text x="525.4" y="422.0" class="t65" text-anchor="middle">BETA</text>
<rect x="485.3" y="433.9" width="81.5" height="12" fill="url(#lg2)"/>
<text x="493.8" y="430.7" class="t76" text-anchor="middle">0.2</text>
<line x1="493.8" y1="432.4" x2="493.8" y2="434.5" stroke="#222" stroke-width="0.6"/>
<text x="526.2" y="430.7" class="t76" text-anchor="middle">0.0</text>
<line x1="526.2" y1="432.4" x2="526.2" y2="434.5" stroke="#222" stroke-width="0.6"/>
<text x="555.9" y="430.7" class="t76" text-anchor="middle">−0.2</text>
<line x1="558.8" y1="432.4" x2="558.8" y2="434.5" stroke="#222" stroke-width="0.6"/>
</svg>
</body></html>
